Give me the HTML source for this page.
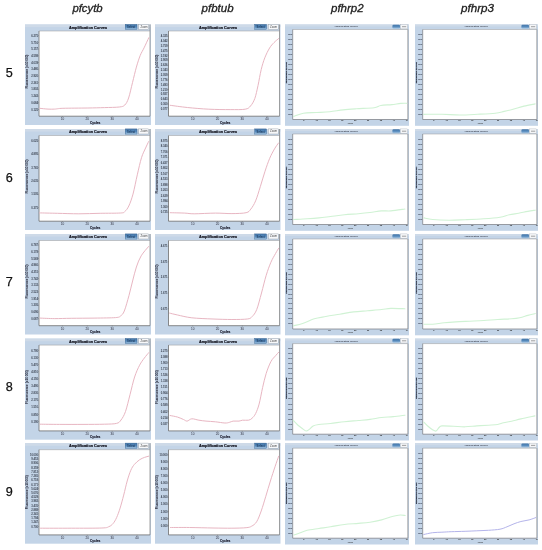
<!DOCTYPE html>
<html><head><meta charset="utf-8"><style>
html,body{margin:0;padding:0;background:#fff;}
svg{display:block;font-family:"Liberation Sans",sans-serif;will-change:transform;}
</style></head><body>
<svg width="542" height="550" viewBox="0 0 542 550">
<defs><linearGradient id="gsel" x1="0" y1="0" x2="0" y2="1"><stop offset="0" stop-color="#4677a8"/><stop offset="0.5" stop-color="#5589bc"/><stop offset="1" stop-color="#a6c6e2"/></linearGradient></defs>
<rect width="542" height="550" fill="#fff"/>
<text x="72.4" y="12.2" font-size="11" font-style="italic" fill="#222" stroke="#222" stroke-width="0.3" textLength="30.3" lengthAdjust="spacingAndGlyphs">pfcytb</text>
<text x="201.6" y="12.2" font-size="11" font-style="italic" fill="#222" stroke="#222" stroke-width="0.3" textLength="32" lengthAdjust="spacingAndGlyphs">pfbtub</text>
<text x="331" y="12.2" font-size="11" font-style="italic" fill="#222" stroke="#222" stroke-width="0.3" textLength="32.7" lengthAdjust="spacingAndGlyphs">pfhrp2</text>
<text x="461" y="12.2" font-size="11" font-style="italic" fill="#222" stroke="#222" stroke-width="0.3" textLength="33" lengthAdjust="spacingAndGlyphs">pfhrp3</text>
<text x="5.8" y="76.9" font-size="12.6" fill="#111" stroke="#111" stroke-width="0.25">5</text>
<text x="5.8" y="181.5" font-size="12.6" fill="#111" stroke="#111" stroke-width="0.25">6</text>
<text x="5.8" y="286.2" font-size="12.6" fill="#111" stroke="#111" stroke-width="0.25">7</text>
<text x="5.8" y="391" font-size="12.6" fill="#111" stroke="#111" stroke-width="0.25">8</text>
<text x="5.8" y="495.9" font-size="12.6" fill="#111" stroke="#111" stroke-width="0.25">9</text>
<rect x="25" y="24.5" width="126" height="100.5" fill="#c3d4e7"/>
<rect x="25" y="24.5" width="126" height="2.6" fill="#cedae8"/>
<text x="69" y="28.6" font-size="4.1" font-weight="bold" fill="#10101a" stroke="#10101a" stroke-width="0.18" textLength="38" lengthAdjust="spacingAndGlyphs">Amplification Curves</text>
<rect x="125.2" y="24.4" width="11.8" height="5.2" fill="url(#gsel)" stroke="#35628f" stroke-width="0.4"/>
<text x="131.1" y="28" font-size="3.3" font-weight="bold" text-anchor="middle" fill="#1d3a5c" textLength="8" lengthAdjust="spacingAndGlyphs">Select</text>
<rect x="138.7" y="24.4" width="10" height="5.1" fill="#f7f8fa" stroke="#8c96a0" stroke-width="0.4"/>
<text x="144.1" y="27.9" font-size="3.2" text-anchor="middle" fill="#484848" textLength="7.2" lengthAdjust="spacingAndGlyphs">Zoom</text>
<rect x="39" y="31" width="111" height="85.2" fill="#fff"/>
<line x1="39" y1="31" x2="150" y2="31" stroke="#999" stroke-width="0.5"/>
<line x1="150" y1="24.5" x2="150" y2="116.2" stroke="#8a8a8a" stroke-width="0.8"/>
<line x1="39" y1="31" x2="39" y2="116.2" stroke="#666" stroke-width="0.75"/>
<line x1="39" y1="116.2" x2="150" y2="116.2" stroke="#666" stroke-width="0.75"/>
<text x="38.1" y="36.8" font-size="2.9" font-weight="bold" text-anchor="end" fill="#3e4654" textLength="6.9" lengthAdjust="spacingAndGlyphs">6.275</text>
<line x1="38.2" y1="35.7" x2="39" y2="35.7" stroke="#555" stroke-width="0.4"/>
<text x="38.1" y="43.51" font-size="2.9" font-weight="bold" text-anchor="end" fill="#3e4654" textLength="6.9" lengthAdjust="spacingAndGlyphs">5.716</text>
<line x1="38.2" y1="42.41" x2="39" y2="42.41" stroke="#555" stroke-width="0.4"/>
<text x="38.1" y="50.22" font-size="2.9" font-weight="bold" text-anchor="end" fill="#3e4654" textLength="6.9" lengthAdjust="spacingAndGlyphs">5.157</text>
<line x1="38.2" y1="49.12" x2="39" y2="49.12" stroke="#555" stroke-width="0.4"/>
<text x="38.1" y="56.93" font-size="2.9" font-weight="bold" text-anchor="end" fill="#3e4654" textLength="6.9" lengthAdjust="spacingAndGlyphs">4.598</text>
<line x1="38.2" y1="55.83" x2="39" y2="55.83" stroke="#555" stroke-width="0.4"/>
<text x="38.1" y="63.64" font-size="2.9" font-weight="bold" text-anchor="end" fill="#3e4654" textLength="6.9" lengthAdjust="spacingAndGlyphs">4.039</text>
<line x1="38.2" y1="62.54" x2="39" y2="62.54" stroke="#555" stroke-width="0.4"/>
<text x="38.1" y="70.35" font-size="2.9" font-weight="bold" text-anchor="end" fill="#3e4654" textLength="6.9" lengthAdjust="spacingAndGlyphs">3.480</text>
<line x1="38.2" y1="69.25" x2="39" y2="69.25" stroke="#555" stroke-width="0.4"/>
<text x="38.1" y="77.05" font-size="2.9" font-weight="bold" text-anchor="end" fill="#3e4654" textLength="6.9" lengthAdjust="spacingAndGlyphs">2.920</text>
<line x1="38.2" y1="75.95" x2="39" y2="75.95" stroke="#555" stroke-width="0.4"/>
<text x="38.1" y="83.76" font-size="2.9" font-weight="bold" text-anchor="end" fill="#3e4654" textLength="6.9" lengthAdjust="spacingAndGlyphs">2.361</text>
<line x1="38.2" y1="82.66" x2="39" y2="82.66" stroke="#555" stroke-width="0.4"/>
<text x="38.1" y="90.47" font-size="2.9" font-weight="bold" text-anchor="end" fill="#3e4654" textLength="6.9" lengthAdjust="spacingAndGlyphs">1.802</text>
<line x1="38.2" y1="89.37" x2="39" y2="89.37" stroke="#555" stroke-width="0.4"/>
<text x="38.1" y="97.18" font-size="2.9" font-weight="bold" text-anchor="end" fill="#3e4654" textLength="6.9" lengthAdjust="spacingAndGlyphs">1.243</text>
<line x1="38.2" y1="96.08" x2="39" y2="96.08" stroke="#555" stroke-width="0.4"/>
<text x="38.1" y="103.89" font-size="2.9" font-weight="bold" text-anchor="end" fill="#3e4654" textLength="6.9" lengthAdjust="spacingAndGlyphs">0.684</text>
<line x1="38.2" y1="102.79" x2="39" y2="102.79" stroke="#555" stroke-width="0.4"/>
<text x="38.1" y="110.6" font-size="2.9" font-weight="bold" text-anchor="end" fill="#3e4654" textLength="6.9" lengthAdjust="spacingAndGlyphs">0.125</text>
<line x1="38.2" y1="109.5" x2="39" y2="109.5" stroke="#555" stroke-width="0.4"/>
<text transform="translate(28.3,71.6) rotate(-90)" font-size="2.8" font-weight="bold" text-anchor="middle" fill="#1a1a2a" textLength="34" lengthAdjust="spacingAndGlyphs">Fluorescence (x10 000)</text>
<line x1="62.4" y1="116.2" x2="62.4" y2="117.1" stroke="#555" stroke-width="0.4"/>
<text x="62.4" y="120.2" font-size="3.1" text-anchor="middle" fill="#2a2a3a">10</text>
<line x1="87.3" y1="116.2" x2="87.3" y2="117.1" stroke="#555" stroke-width="0.4"/>
<text x="87.3" y="120.2" font-size="3.1" text-anchor="middle" fill="#2a2a3a">20</text>
<line x1="112.2" y1="116.2" x2="112.2" y2="117.1" stroke="#555" stroke-width="0.4"/>
<text x="112.2" y="120.2" font-size="3.1" text-anchor="middle" fill="#2a2a3a">30</text>
<line x1="137.1" y1="116.2" x2="137.1" y2="117.1" stroke="#555" stroke-width="0.4"/>
<text x="137.1" y="120.2" font-size="3.1" text-anchor="middle" fill="#2a2a3a">40</text>
<text x="95.2" y="123.7" font-size="3.4" font-weight="bold" text-anchor="middle" fill="#1a1a2a" stroke="#1a1a2a" stroke-width="0.12" textLength="10.5" lengthAdjust="spacingAndGlyphs">Cycles</text>
<path d="M39.7,108.3 C41.08,108.43 45.52,108.97 48,109.1 C50.48,109.23 52.12,109.23 54.6,109.1 C57.08,108.97 57.37,108.48 62.9,108.3 C68.43,108.12 80.88,108.12 87.8,108 C94.72,107.88 99.15,107.77 104.4,107.6 C109.65,107.43 115.9,107.43 119.3,107 C122.7,106.57 123.25,106.5 124.8,105 C126.35,103.5 127.32,101.73 128.6,98 C129.88,94.27 131.2,87.75 132.5,82.6 C133.8,77.45 135.12,71.62 136.4,67.1 C137.68,62.58 138.92,58.72 140.2,55.5 C141.48,52.28 142.67,50.77 144.1,47.8 C145.53,44.83 148.02,39.38 148.8,37.7" fill="none" stroke="#e8b6c2" stroke-width="1.0" stroke-linejoin="round" stroke-linecap="round"/>
<rect x="155" y="24.5" width="125.5" height="100.5" fill="#c3d4e7"/>
<rect x="155" y="24.5" width="125.5" height="2.6" fill="#cedae8"/>
<text x="199" y="28.6" font-size="4.1" font-weight="bold" fill="#10101a" stroke="#10101a" stroke-width="0.18" textLength="38" lengthAdjust="spacingAndGlyphs">Amplification Curves</text>
<rect x="254.7" y="24.4" width="11.8" height="5.2" fill="url(#gsel)" stroke="#35628f" stroke-width="0.4"/>
<text x="260.6" y="28" font-size="3.3" font-weight="bold" text-anchor="middle" fill="#1d3a5c" textLength="8" lengthAdjust="spacingAndGlyphs">Select</text>
<rect x="268.2" y="24.4" width="10" height="5.1" fill="#f7f8fa" stroke="#8c96a0" stroke-width="0.4"/>
<text x="273.6" y="27.9" font-size="3.2" text-anchor="middle" fill="#484848" textLength="7.2" lengthAdjust="spacingAndGlyphs">Zoom</text>
<rect x="168.5" y="31" width="111" height="85.2" fill="#fff"/>
<line x1="168.5" y1="31" x2="279.5" y2="31" stroke="#999" stroke-width="0.5"/>
<line x1="279.5" y1="24.5" x2="279.5" y2="116.2" stroke="#8a8a8a" stroke-width="0.8"/>
<line x1="168.5" y1="31" x2="168.5" y2="116.2" stroke="#666" stroke-width="0.75"/>
<line x1="168.5" y1="116.2" x2="279.5" y2="116.2" stroke="#666" stroke-width="0.75"/>
<text x="167.6" y="37.2" font-size="2.9" font-weight="bold" text-anchor="end" fill="#3e4654" textLength="6.9" lengthAdjust="spacingAndGlyphs">4.325</text>
<line x1="167.7" y1="36.1" x2="168.5" y2="36.1" stroke="#555" stroke-width="0.4"/>
<text x="167.6" y="42.05" font-size="2.9" font-weight="bold" text-anchor="end" fill="#3e4654" textLength="6.9" lengthAdjust="spacingAndGlyphs">4.042</text>
<line x1="167.7" y1="40.95" x2="168.5" y2="40.95" stroke="#555" stroke-width="0.4"/>
<text x="167.6" y="46.91" font-size="2.9" font-weight="bold" text-anchor="end" fill="#3e4654" textLength="6.9" lengthAdjust="spacingAndGlyphs">3.759</text>
<line x1="167.7" y1="45.81" x2="168.5" y2="45.81" stroke="#555" stroke-width="0.4"/>
<text x="167.6" y="51.76" font-size="2.9" font-weight="bold" text-anchor="end" fill="#3e4654" textLength="6.9" lengthAdjust="spacingAndGlyphs">3.475</text>
<line x1="167.7" y1="50.66" x2="168.5" y2="50.66" stroke="#555" stroke-width="0.4"/>
<text x="167.6" y="56.61" font-size="2.9" font-weight="bold" text-anchor="end" fill="#3e4654" textLength="6.9" lengthAdjust="spacingAndGlyphs">3.192</text>
<line x1="167.7" y1="55.51" x2="168.5" y2="55.51" stroke="#555" stroke-width="0.4"/>
<text x="167.6" y="61.47" font-size="2.9" font-weight="bold" text-anchor="end" fill="#3e4654" textLength="6.9" lengthAdjust="spacingAndGlyphs">2.909</text>
<line x1="167.7" y1="60.37" x2="168.5" y2="60.37" stroke="#555" stroke-width="0.4"/>
<text x="167.6" y="66.32" font-size="2.9" font-weight="bold" text-anchor="end" fill="#3e4654" textLength="6.9" lengthAdjust="spacingAndGlyphs">2.626</text>
<line x1="167.7" y1="65.22" x2="168.5" y2="65.22" stroke="#555" stroke-width="0.4"/>
<text x="167.6" y="71.17" font-size="2.9" font-weight="bold" text-anchor="end" fill="#3e4654" textLength="6.9" lengthAdjust="spacingAndGlyphs">2.343</text>
<line x1="167.7" y1="70.07" x2="168.5" y2="70.07" stroke="#555" stroke-width="0.4"/>
<text x="167.6" y="76.03" font-size="2.9" font-weight="bold" text-anchor="end" fill="#3e4654" textLength="6.9" lengthAdjust="spacingAndGlyphs">2.059</text>
<line x1="167.7" y1="74.93" x2="168.5" y2="74.93" stroke="#555" stroke-width="0.4"/>
<text x="167.6" y="80.88" font-size="2.9" font-weight="bold" text-anchor="end" fill="#3e4654" textLength="6.9" lengthAdjust="spacingAndGlyphs">1.776</text>
<line x1="167.7" y1="79.78" x2="168.5" y2="79.78" stroke="#555" stroke-width="0.4"/>
<text x="167.6" y="85.73" font-size="2.9" font-weight="bold" text-anchor="end" fill="#3e4654" textLength="6.9" lengthAdjust="spacingAndGlyphs">1.493</text>
<line x1="167.7" y1="84.63" x2="168.5" y2="84.63" stroke="#555" stroke-width="0.4"/>
<text x="167.6" y="90.59" font-size="2.9" font-weight="bold" text-anchor="end" fill="#3e4654" textLength="6.9" lengthAdjust="spacingAndGlyphs">1.210</text>
<line x1="167.7" y1="89.49" x2="168.5" y2="89.49" stroke="#555" stroke-width="0.4"/>
<text x="167.6" y="95.44" font-size="2.9" font-weight="bold" text-anchor="end" fill="#3e4654" textLength="6.9" lengthAdjust="spacingAndGlyphs">0.927</text>
<line x1="167.7" y1="94.34" x2="168.5" y2="94.34" stroke="#555" stroke-width="0.4"/>
<text x="167.6" y="100.29" font-size="2.9" font-weight="bold" text-anchor="end" fill="#3e4654" textLength="6.9" lengthAdjust="spacingAndGlyphs">0.643</text>
<line x1="167.7" y1="99.19" x2="168.5" y2="99.19" stroke="#555" stroke-width="0.4"/>
<text x="167.6" y="105.15" font-size="2.9" font-weight="bold" text-anchor="end" fill="#3e4654" textLength="6.9" lengthAdjust="spacingAndGlyphs">0.360</text>
<line x1="167.7" y1="104.05" x2="168.5" y2="104.05" stroke="#555" stroke-width="0.4"/>
<text x="167.6" y="110" font-size="2.9" font-weight="bold" text-anchor="end" fill="#3e4654" textLength="6.9" lengthAdjust="spacingAndGlyphs">0.077</text>
<line x1="167.7" y1="108.9" x2="168.5" y2="108.9" stroke="#555" stroke-width="0.4"/>
<text transform="translate(158.3,71.6) rotate(-90)" font-size="2.8" font-weight="bold" text-anchor="middle" fill="#1a1a2a" textLength="34" lengthAdjust="spacingAndGlyphs">Fluorescence (x10 000)</text>
<line x1="192.7" y1="116.2" x2="192.7" y2="117.1" stroke="#555" stroke-width="0.4"/>
<text x="192.7" y="120.2" font-size="3.1" text-anchor="middle" fill="#2a2a3a">10</text>
<line x1="217.5" y1="116.2" x2="217.5" y2="117.1" stroke="#555" stroke-width="0.4"/>
<text x="217.5" y="120.2" font-size="3.1" text-anchor="middle" fill="#2a2a3a">20</text>
<line x1="242.3" y1="116.2" x2="242.3" y2="117.1" stroke="#555" stroke-width="0.4"/>
<text x="242.3" y="120.2" font-size="3.1" text-anchor="middle" fill="#2a2a3a">30</text>
<line x1="267.1" y1="116.2" x2="267.1" y2="117.1" stroke="#555" stroke-width="0.4"/>
<text x="267.1" y="120.2" font-size="3.1" text-anchor="middle" fill="#2a2a3a">40</text>
<text x="225.2" y="123.7" font-size="3.4" font-weight="bold" text-anchor="middle" fill="#1a1a2a" stroke="#1a1a2a" stroke-width="0.12" textLength="10.5" lengthAdjust="spacingAndGlyphs">Cycles</text>
<path d="M170.2,105.3 C173.07,105.67 180.97,106.85 187.4,107.5 C193.83,108.15 201.67,108.85 208.8,109.2 C215.93,109.55 224.13,109.6 230.2,109.6 C236.27,109.6 241.82,109.8 245.2,109.2 C248.58,108.6 248.9,107.78 250.5,106 C252.1,104.22 253.55,101.9 254.8,98.5 C256.05,95.1 256.93,90.42 258,85.6 C259.07,80.78 260.07,74.23 261.2,69.6 C262.33,64.97 263.4,61.4 264.8,57.8 C266.2,54.2 268.07,50.53 269.6,48 C271.13,45.47 272.5,44.17 274,42.6 C275.5,41.03 277.83,39.27 278.6,38.6" fill="none" stroke="#e8b6c2" stroke-width="1.0" stroke-linejoin="round" stroke-linecap="round"/>
<rect x="285" y="24.5" width="124" height="101.3" fill="#c3d4e7"/>
<rect x="285" y="24.5" width="124" height="2.0" fill="#cedae8"/>
<text x="334.4" y="27.4" font-size="2.4" font-weight="bold" fill="#454a58" textLength="23.5" lengthAdjust="spacingAndGlyphs">Amplification Curves</text>
<rect x="392.4" y="24.7" width="7.6" height="4" rx="1.2" fill="url(#gsel)"/>
<rect x="400.5" y="24.4" width="7" height="4.5" fill="#f4f5f7" stroke="#9aa2ac" stroke-width="0.3"/>
<line x1="402" y1="26.7" x2="406.2" y2="26.7" stroke="#666" stroke-width="0.6"/>
<rect x="292.7" y="29.5" width="115.2" height="90" fill="#fff"/>
<line x1="292.7" y1="29.5" x2="407.9" y2="29.5" stroke="#999" stroke-width="0.5"/>
<line x1="407.9" y1="29.5" x2="407.9" y2="119.5" stroke="#8a8a8a" stroke-width="0.8"/>
<line x1="292.7" y1="29.5" x2="292.7" y2="119.5" stroke="#7c7f86" stroke-width="0.75"/>
<line x1="292.7" y1="119.5" x2="407.9" y2="119.5" stroke="#7c7f86" stroke-width="0.75"/>
<text x="292.1" y="35.2" font-size="2.1" font-weight="bold" text-anchor="end" fill="#2a3040" textLength="4.2" lengthAdjust="spacingAndGlyphs">1.275</text>
<text x="292.1" y="40.18" font-size="2.1" font-weight="bold" text-anchor="end" fill="#2a3040" textLength="4.2" lengthAdjust="spacingAndGlyphs">1.275</text>
<text x="292.1" y="45.16" font-size="2.1" font-weight="bold" text-anchor="end" fill="#2a3040" textLength="4.2" lengthAdjust="spacingAndGlyphs">1.275</text>
<text x="292.1" y="50.14" font-size="2.1" font-weight="bold" text-anchor="end" fill="#2a3040" textLength="4.2" lengthAdjust="spacingAndGlyphs">1.275</text>
<text x="292.1" y="55.12" font-size="2.1" font-weight="bold" text-anchor="end" fill="#2a3040" textLength="4.2" lengthAdjust="spacingAndGlyphs">1.275</text>
<text x="292.1" y="60.11" font-size="2.1" font-weight="bold" text-anchor="end" fill="#2a3040" textLength="4.2" lengthAdjust="spacingAndGlyphs">1.275</text>
<text x="292.1" y="65.09" font-size="2.1" font-weight="bold" text-anchor="end" fill="#2a3040" textLength="4.2" lengthAdjust="spacingAndGlyphs">1.275</text>
<text x="292.1" y="70.07" font-size="2.1" font-weight="bold" text-anchor="end" fill="#2a3040" textLength="4.2" lengthAdjust="spacingAndGlyphs">1.275</text>
<text x="292.1" y="75.05" font-size="2.1" font-weight="bold" text-anchor="end" fill="#2a3040" textLength="4.2" lengthAdjust="spacingAndGlyphs">1.275</text>
<text x="292.1" y="80.03" font-size="2.1" font-weight="bold" text-anchor="end" fill="#2a3040" textLength="4.2" lengthAdjust="spacingAndGlyphs">1.275</text>
<text x="292.1" y="85.01" font-size="2.1" font-weight="bold" text-anchor="end" fill="#2a3040" textLength="4.2" lengthAdjust="spacingAndGlyphs">1.275</text>
<text x="292.1" y="89.99" font-size="2.1" font-weight="bold" text-anchor="end" fill="#2a3040" textLength="4.2" lengthAdjust="spacingAndGlyphs">1.275</text>
<text x="292.1" y="94.98" font-size="2.1" font-weight="bold" text-anchor="end" fill="#2a3040" textLength="4.2" lengthAdjust="spacingAndGlyphs">1.275</text>
<text x="292.1" y="99.96" font-size="2.1" font-weight="bold" text-anchor="end" fill="#2a3040" textLength="4.2" lengthAdjust="spacingAndGlyphs">1.275</text>
<text x="292.1" y="104.94" font-size="2.1" font-weight="bold" text-anchor="end" fill="#2a3040" textLength="4.2" lengthAdjust="spacingAndGlyphs">1.275</text>
<text x="292.1" y="109.92" font-size="2.1" font-weight="bold" text-anchor="end" fill="#2a3040" textLength="4.2" lengthAdjust="spacingAndGlyphs">1.275</text>
<text x="292.1" y="114.9" font-size="2.1" font-weight="bold" text-anchor="end" fill="#2a3040" textLength="4.2" lengthAdjust="spacingAndGlyphs">1.275</text>
<text transform="translate(286.7,72.5) rotate(-90)" font-size="2.3" font-weight="bold" text-anchor="middle" fill="#2a3040" stroke="#2a3040" stroke-width="0.15" textLength="21.5" lengthAdjust="spacingAndGlyphs">Fluorescence (x10 000)</text>
<text x="303.8" y="121.4" font-size="2.1" font-weight="bold" text-anchor="middle" fill="#333">5</text>
<text x="316.65" y="121.4" font-size="2.1" font-weight="bold" text-anchor="middle" fill="#333">10</text>
<text x="329.5" y="121.4" font-size="2.1" font-weight="bold" text-anchor="middle" fill="#333">15</text>
<text x="342.35" y="121.4" font-size="2.1" font-weight="bold" text-anchor="middle" fill="#333">20</text>
<text x="355.2" y="121.4" font-size="2.1" font-weight="bold" text-anchor="middle" fill="#333">25</text>
<text x="368.05" y="121.4" font-size="2.1" font-weight="bold" text-anchor="middle" fill="#333">30</text>
<text x="380.9" y="121.4" font-size="2.1" font-weight="bold" text-anchor="middle" fill="#333">35</text>
<text x="393.75" y="121.4" font-size="2.1" font-weight="bold" text-anchor="middle" fill="#333">40</text>
<text x="406.6" y="121.4" font-size="2.1" font-weight="bold" text-anchor="middle" fill="#333">45</text>
<text x="350.3" y="123.9" font-size="2" font-weight="bold" text-anchor="middle" fill="#333" textLength="5" lengthAdjust="spacingAndGlyphs">Cycles</text>
<path d="M293.5,116.5 C295.13,115.95 299.45,113.87 303.3,113.2 C307.15,112.53 312.18,112.75 316.6,112.5 C321.02,112.25 325.38,112.13 329.8,111.7 C334.22,111.27 338.67,110.38 343.1,109.9 C347.53,109.42 351.23,109.17 356.4,108.8 C361.57,108.43 370.03,108.25 374.1,107.7 C378.17,107.15 377.85,106.02 380.8,105.5 C383.75,104.98 388.48,104.95 391.8,104.6 C395.12,104.25 398.2,103.62 400.7,103.4 C403.2,103.18 405.78,103.32 406.8,103.3" fill="none" stroke="#d0f2d4" stroke-width="1.15" stroke-linejoin="round" stroke-linecap="round"/>
<rect x="415" y="24.5" width="123" height="101.3" fill="#c3d4e7"/>
<rect x="415" y="24.5" width="123" height="2.0" fill="#cedae8"/>
<text x="464.4" y="27.4" font-size="2.4" font-weight="bold" fill="#454a58" textLength="23.5" lengthAdjust="spacingAndGlyphs">Amplification Curves</text>
<rect x="521.4" y="24.7" width="7.6" height="4" rx="1.2" fill="url(#gsel)"/>
<rect x="529.5" y="24.4" width="7" height="4.5" fill="#f4f5f7" stroke="#9aa2ac" stroke-width="0.3"/>
<line x1="531" y1="26.7" x2="535.2" y2="26.7" stroke="#666" stroke-width="0.6"/>
<rect x="422.7" y="29.5" width="114.2" height="90" fill="#fff"/>
<line x1="422.7" y1="29.5" x2="536.9" y2="29.5" stroke="#999" stroke-width="0.5"/>
<line x1="536.9" y1="29.5" x2="536.9" y2="119.5" stroke="#8a8a8a" stroke-width="0.8"/>
<line x1="422.7" y1="29.5" x2="422.7" y2="119.5" stroke="#7c7f86" stroke-width="0.75"/>
<line x1="422.7" y1="119.5" x2="536.9" y2="119.5" stroke="#7c7f86" stroke-width="0.75"/>
<text x="422.1" y="35.2" font-size="2.1" font-weight="bold" text-anchor="end" fill="#2a3040" textLength="4.2" lengthAdjust="spacingAndGlyphs">1.275</text>
<text x="422.1" y="40.18" font-size="2.1" font-weight="bold" text-anchor="end" fill="#2a3040" textLength="4.2" lengthAdjust="spacingAndGlyphs">1.275</text>
<text x="422.1" y="45.16" font-size="2.1" font-weight="bold" text-anchor="end" fill="#2a3040" textLength="4.2" lengthAdjust="spacingAndGlyphs">1.275</text>
<text x="422.1" y="50.14" font-size="2.1" font-weight="bold" text-anchor="end" fill="#2a3040" textLength="4.2" lengthAdjust="spacingAndGlyphs">1.275</text>
<text x="422.1" y="55.12" font-size="2.1" font-weight="bold" text-anchor="end" fill="#2a3040" textLength="4.2" lengthAdjust="spacingAndGlyphs">1.275</text>
<text x="422.1" y="60.11" font-size="2.1" font-weight="bold" text-anchor="end" fill="#2a3040" textLength="4.2" lengthAdjust="spacingAndGlyphs">1.275</text>
<text x="422.1" y="65.09" font-size="2.1" font-weight="bold" text-anchor="end" fill="#2a3040" textLength="4.2" lengthAdjust="spacingAndGlyphs">1.275</text>
<text x="422.1" y="70.07" font-size="2.1" font-weight="bold" text-anchor="end" fill="#2a3040" textLength="4.2" lengthAdjust="spacingAndGlyphs">1.275</text>
<text x="422.1" y="75.05" font-size="2.1" font-weight="bold" text-anchor="end" fill="#2a3040" textLength="4.2" lengthAdjust="spacingAndGlyphs">1.275</text>
<text x="422.1" y="80.03" font-size="2.1" font-weight="bold" text-anchor="end" fill="#2a3040" textLength="4.2" lengthAdjust="spacingAndGlyphs">1.275</text>
<text x="422.1" y="85.01" font-size="2.1" font-weight="bold" text-anchor="end" fill="#2a3040" textLength="4.2" lengthAdjust="spacingAndGlyphs">1.275</text>
<text x="422.1" y="89.99" font-size="2.1" font-weight="bold" text-anchor="end" fill="#2a3040" textLength="4.2" lengthAdjust="spacingAndGlyphs">1.275</text>
<text x="422.1" y="94.98" font-size="2.1" font-weight="bold" text-anchor="end" fill="#2a3040" textLength="4.2" lengthAdjust="spacingAndGlyphs">1.275</text>
<text x="422.1" y="99.96" font-size="2.1" font-weight="bold" text-anchor="end" fill="#2a3040" textLength="4.2" lengthAdjust="spacingAndGlyphs">1.275</text>
<text x="422.1" y="104.94" font-size="2.1" font-weight="bold" text-anchor="end" fill="#2a3040" textLength="4.2" lengthAdjust="spacingAndGlyphs">1.275</text>
<text x="422.1" y="109.92" font-size="2.1" font-weight="bold" text-anchor="end" fill="#2a3040" textLength="4.2" lengthAdjust="spacingAndGlyphs">1.275</text>
<text x="422.1" y="114.9" font-size="2.1" font-weight="bold" text-anchor="end" fill="#2a3040" textLength="4.2" lengthAdjust="spacingAndGlyphs">1.275</text>
<text transform="translate(416.7,72.5) rotate(-90)" font-size="2.3" font-weight="bold" text-anchor="middle" fill="#2a3040" stroke="#2a3040" stroke-width="0.15" textLength="21.5" lengthAdjust="spacingAndGlyphs">Fluorescence (x10 000)</text>
<text x="433.8" y="121.4" font-size="2.1" font-weight="bold" text-anchor="middle" fill="#333">5</text>
<text x="446.65" y="121.4" font-size="2.1" font-weight="bold" text-anchor="middle" fill="#333">10</text>
<text x="459.5" y="121.4" font-size="2.1" font-weight="bold" text-anchor="middle" fill="#333">15</text>
<text x="472.35" y="121.4" font-size="2.1" font-weight="bold" text-anchor="middle" fill="#333">20</text>
<text x="485.2" y="121.4" font-size="2.1" font-weight="bold" text-anchor="middle" fill="#333">25</text>
<text x="498.05" y="121.4" font-size="2.1" font-weight="bold" text-anchor="middle" fill="#333">30</text>
<text x="510.9" y="121.4" font-size="2.1" font-weight="bold" text-anchor="middle" fill="#333">35</text>
<text x="523.75" y="121.4" font-size="2.1" font-weight="bold" text-anchor="middle" fill="#333">40</text>
<text x="536.6" y="121.4" font-size="2.1" font-weight="bold" text-anchor="middle" fill="#333">45</text>
<text x="480.3" y="123.9" font-size="2" font-weight="bold" text-anchor="middle" fill="#333" textLength="5" lengthAdjust="spacingAndGlyphs">Cycles</text>
<path d="M423.6,114.3 C426.68,114.3 436.07,114.18 442.1,114.3 C448.13,114.42 453.88,115 459.8,115 C465.72,115 471.68,114.6 477.6,114.3 C483.52,114 490.88,113.68 495.3,113.2 C499.72,112.72 501.15,112.07 504.1,111.4 C507.05,110.73 509.68,110.08 513,109.2 C516.32,108.32 520.32,106.98 524,106.1 C527.68,105.22 533.25,104.27 535.1,103.9" fill="none" stroke="#d0f2d4" stroke-width="1.15" stroke-linejoin="round" stroke-linecap="round"/>
<rect x="25" y="129" width="126" height="101" fill="#c3d4e7"/>
<rect x="25" y="129" width="126" height="2.6" fill="#cedae8"/>
<text x="69" y="133.1" font-size="4.1" font-weight="bold" fill="#10101a" stroke="#10101a" stroke-width="0.18" textLength="38" lengthAdjust="spacingAndGlyphs">Amplification Curves</text>
<rect x="125.2" y="128.9" width="11.8" height="5.2" fill="url(#gsel)" stroke="#35628f" stroke-width="0.4"/>
<text x="131.1" y="132.5" font-size="3.3" font-weight="bold" text-anchor="middle" fill="#1d3a5c" textLength="8" lengthAdjust="spacingAndGlyphs">Select</text>
<rect x="138.7" y="128.9" width="10" height="5.1" fill="#f7f8fa" stroke="#8c96a0" stroke-width="0.4"/>
<text x="144.1" y="132.4" font-size="3.2" text-anchor="middle" fill="#484848" textLength="7.2" lengthAdjust="spacingAndGlyphs">Zoom</text>
<rect x="39" y="135.5" width="111" height="85.7" fill="#fff"/>
<line x1="39" y1="135.5" x2="150" y2="135.5" stroke="#999" stroke-width="0.5"/>
<line x1="150" y1="129" x2="150" y2="221.2" stroke="#8a8a8a" stroke-width="0.8"/>
<line x1="39" y1="135.5" x2="39" y2="221.2" stroke="#666" stroke-width="0.75"/>
<line x1="39" y1="221.2" x2="150" y2="221.2" stroke="#666" stroke-width="0.75"/>
<text x="38.1" y="142" font-size="2.9" font-weight="bold" text-anchor="end" fill="#3e4654" textLength="6.9" lengthAdjust="spacingAndGlyphs">6.025</text>
<line x1="38.2" y1="140.9" x2="39" y2="140.9" stroke="#555" stroke-width="0.4"/>
<text x="38.1" y="155.36" font-size="2.9" font-weight="bold" text-anchor="end" fill="#3e4654" textLength="6.9" lengthAdjust="spacingAndGlyphs">4.895</text>
<line x1="38.2" y1="154.26" x2="39" y2="154.26" stroke="#555" stroke-width="0.4"/>
<text x="38.1" y="168.72" font-size="2.9" font-weight="bold" text-anchor="end" fill="#3e4654" textLength="6.9" lengthAdjust="spacingAndGlyphs">3.765</text>
<line x1="38.2" y1="167.62" x2="39" y2="167.62" stroke="#555" stroke-width="0.4"/>
<text x="38.1" y="182.08" font-size="2.9" font-weight="bold" text-anchor="end" fill="#3e4654" textLength="6.9" lengthAdjust="spacingAndGlyphs">2.635</text>
<line x1="38.2" y1="180.98" x2="39" y2="180.98" stroke="#555" stroke-width="0.4"/>
<text x="38.1" y="195.44" font-size="2.9" font-weight="bold" text-anchor="end" fill="#3e4654" textLength="6.9" lengthAdjust="spacingAndGlyphs">1.505</text>
<line x1="38.2" y1="194.34" x2="39" y2="194.34" stroke="#555" stroke-width="0.4"/>
<text x="38.1" y="208.8" font-size="2.9" font-weight="bold" text-anchor="end" fill="#3e4654" textLength="6.9" lengthAdjust="spacingAndGlyphs">0.375</text>
<line x1="38.2" y1="207.7" x2="39" y2="207.7" stroke="#555" stroke-width="0.4"/>
<text transform="translate(28.3,176.55) rotate(-90)" font-size="2.8" font-weight="bold" text-anchor="middle" fill="#1a1a2a" textLength="34" lengthAdjust="spacingAndGlyphs">Fluorescence (x10 000)</text>
<line x1="62.4" y1="221.2" x2="62.4" y2="222.1" stroke="#555" stroke-width="0.4"/>
<text x="62.4" y="225.2" font-size="3.1" text-anchor="middle" fill="#2a2a3a">10</text>
<line x1="87.3" y1="221.2" x2="87.3" y2="222.1" stroke="#555" stroke-width="0.4"/>
<text x="87.3" y="225.2" font-size="3.1" text-anchor="middle" fill="#2a2a3a">20</text>
<line x1="112.2" y1="221.2" x2="112.2" y2="222.1" stroke="#555" stroke-width="0.4"/>
<text x="112.2" y="225.2" font-size="3.1" text-anchor="middle" fill="#2a2a3a">30</text>
<line x1="137.1" y1="221.2" x2="137.1" y2="222.1" stroke="#555" stroke-width="0.4"/>
<text x="137.1" y="225.2" font-size="3.1" text-anchor="middle" fill="#2a2a3a">40</text>
<text x="95.2" y="228.7" font-size="3.4" font-weight="bold" text-anchor="middle" fill="#1a1a2a" stroke="#1a1a2a" stroke-width="0.12" textLength="10.5" lengthAdjust="spacingAndGlyphs">Cycles</text>
<path d="M39.5,212.9 C42.48,212.97 50.85,213.15 57.4,213.3 C63.95,213.45 71.67,213.8 78.8,213.8 C85.93,213.8 93.25,213.43 100.2,213.3 C107.15,213.17 116.4,213.3 120.5,213 C124.6,212.7 123.42,212.67 124.8,211.5 C126.18,210.33 127.43,208.9 128.8,206 C130.17,203.1 131.58,199.3 133,194.1 C134.42,188.9 135.88,180.87 137.3,174.8 C138.72,168.73 140.12,162.17 141.5,157.7 C142.88,153.23 144.42,150.68 145.6,148 C146.78,145.32 148.1,142.67 148.6,141.6" fill="none" stroke="#e8b6c2" stroke-width="1.0" stroke-linejoin="round" stroke-linecap="round"/>
<rect x="155" y="129" width="125.5" height="101" fill="#c3d4e7"/>
<rect x="155" y="129" width="125.5" height="2.6" fill="#cedae8"/>
<text x="199" y="133.1" font-size="4.1" font-weight="bold" fill="#10101a" stroke="#10101a" stroke-width="0.18" textLength="38" lengthAdjust="spacingAndGlyphs">Amplification Curves</text>
<rect x="254.7" y="128.9" width="11.8" height="5.2" fill="url(#gsel)" stroke="#35628f" stroke-width="0.4"/>
<text x="260.6" y="132.5" font-size="3.3" font-weight="bold" text-anchor="middle" fill="#1d3a5c" textLength="8" lengthAdjust="spacingAndGlyphs">Select</text>
<rect x="268.2" y="128.9" width="10" height="5.1" fill="#f7f8fa" stroke="#8c96a0" stroke-width="0.4"/>
<text x="273.6" y="132.4" font-size="3.2" text-anchor="middle" fill="#484848" textLength="7.2" lengthAdjust="spacingAndGlyphs">Zoom</text>
<rect x="168.5" y="135.5" width="111" height="85.7" fill="#fff"/>
<line x1="168.5" y1="135.5" x2="279.5" y2="135.5" stroke="#999" stroke-width="0.5"/>
<line x1="279.5" y1="129" x2="279.5" y2="221.2" stroke="#8a8a8a" stroke-width="0.8"/>
<line x1="168.5" y1="135.5" x2="168.5" y2="221.2" stroke="#666" stroke-width="0.75"/>
<line x1="168.5" y1="221.2" x2="279.5" y2="221.2" stroke="#666" stroke-width="0.75"/>
<text x="167.6" y="142" font-size="2.9" font-weight="bold" text-anchor="end" fill="#3e4654" textLength="6.9" lengthAdjust="spacingAndGlyphs">8.975</text>
<line x1="167.7" y1="140.9" x2="168.5" y2="140.9" stroke="#555" stroke-width="0.4"/>
<text x="167.6" y="147.48" font-size="2.9" font-weight="bold" text-anchor="end" fill="#3e4654" textLength="6.9" lengthAdjust="spacingAndGlyphs">8.340</text>
<line x1="167.7" y1="146.38" x2="168.5" y2="146.38" stroke="#555" stroke-width="0.4"/>
<text x="167.6" y="152.97" font-size="2.9" font-weight="bold" text-anchor="end" fill="#3e4654" textLength="6.9" lengthAdjust="spacingAndGlyphs">7.706</text>
<line x1="167.7" y1="151.87" x2="168.5" y2="151.87" stroke="#555" stroke-width="0.4"/>
<text x="167.6" y="158.45" font-size="2.9" font-weight="bold" text-anchor="end" fill="#3e4654" textLength="6.9" lengthAdjust="spacingAndGlyphs">7.071</text>
<line x1="167.7" y1="157.35" x2="168.5" y2="157.35" stroke="#555" stroke-width="0.4"/>
<text x="167.6" y="163.94" font-size="2.9" font-weight="bold" text-anchor="end" fill="#3e4654" textLength="6.9" lengthAdjust="spacingAndGlyphs">6.437</text>
<line x1="167.7" y1="162.84" x2="168.5" y2="162.84" stroke="#555" stroke-width="0.4"/>
<text x="167.6" y="169.42" font-size="2.9" font-weight="bold" text-anchor="end" fill="#3e4654" textLength="6.9" lengthAdjust="spacingAndGlyphs">5.802</text>
<line x1="167.7" y1="168.32" x2="168.5" y2="168.32" stroke="#555" stroke-width="0.4"/>
<text x="167.6" y="174.91" font-size="2.9" font-weight="bold" text-anchor="end" fill="#3e4654" textLength="6.9" lengthAdjust="spacingAndGlyphs">5.167</text>
<line x1="167.7" y1="173.81" x2="168.5" y2="173.81" stroke="#555" stroke-width="0.4"/>
<text x="167.6" y="180.39" font-size="2.9" font-weight="bold" text-anchor="end" fill="#3e4654" textLength="6.9" lengthAdjust="spacingAndGlyphs">4.533</text>
<line x1="167.7" y1="179.29" x2="168.5" y2="179.29" stroke="#555" stroke-width="0.4"/>
<text x="167.6" y="185.88" font-size="2.9" font-weight="bold" text-anchor="end" fill="#3e4654" textLength="6.9" lengthAdjust="spacingAndGlyphs">3.898</text>
<line x1="167.7" y1="184.78" x2="168.5" y2="184.78" stroke="#555" stroke-width="0.4"/>
<text x="167.6" y="191.36" font-size="2.9" font-weight="bold" text-anchor="end" fill="#3e4654" textLength="6.9" lengthAdjust="spacingAndGlyphs">3.263</text>
<line x1="167.7" y1="190.26" x2="168.5" y2="190.26" stroke="#555" stroke-width="0.4"/>
<text x="167.6" y="196.85" font-size="2.9" font-weight="bold" text-anchor="end" fill="#3e4654" textLength="6.9" lengthAdjust="spacingAndGlyphs">2.629</text>
<line x1="167.7" y1="195.75" x2="168.5" y2="195.75" stroke="#555" stroke-width="0.4"/>
<text x="167.6" y="202.33" font-size="2.9" font-weight="bold" text-anchor="end" fill="#3e4654" textLength="6.9" lengthAdjust="spacingAndGlyphs">1.994</text>
<line x1="167.7" y1="201.23" x2="168.5" y2="201.23" stroke="#555" stroke-width="0.4"/>
<text x="167.6" y="207.82" font-size="2.9" font-weight="bold" text-anchor="end" fill="#3e4654" textLength="6.9" lengthAdjust="spacingAndGlyphs">1.360</text>
<line x1="167.7" y1="206.72" x2="168.5" y2="206.72" stroke="#555" stroke-width="0.4"/>
<text x="167.6" y="213.3" font-size="2.9" font-weight="bold" text-anchor="end" fill="#3e4654" textLength="6.9" lengthAdjust="spacingAndGlyphs">0.725</text>
<line x1="167.7" y1="212.2" x2="168.5" y2="212.2" stroke="#555" stroke-width="0.4"/>
<text transform="translate(158.3,176.55) rotate(-90)" font-size="2.8" font-weight="bold" text-anchor="middle" fill="#1a1a2a" textLength="34" lengthAdjust="spacingAndGlyphs">Fluorescence (x10 000)</text>
<line x1="192.7" y1="221.2" x2="192.7" y2="222.1" stroke="#555" stroke-width="0.4"/>
<text x="192.7" y="225.2" font-size="3.1" text-anchor="middle" fill="#2a2a3a">10</text>
<line x1="217.5" y1="221.2" x2="217.5" y2="222.1" stroke="#555" stroke-width="0.4"/>
<text x="217.5" y="225.2" font-size="3.1" text-anchor="middle" fill="#2a2a3a">20</text>
<line x1="242.3" y1="221.2" x2="242.3" y2="222.1" stroke="#555" stroke-width="0.4"/>
<text x="242.3" y="225.2" font-size="3.1" text-anchor="middle" fill="#2a2a3a">30</text>
<line x1="267.1" y1="221.2" x2="267.1" y2="222.1" stroke="#555" stroke-width="0.4"/>
<text x="267.1" y="225.2" font-size="3.1" text-anchor="middle" fill="#2a2a3a">40</text>
<text x="225.2" y="228.7" font-size="3.4" font-weight="bold" text-anchor="middle" fill="#1a1a2a" stroke="#1a1a2a" stroke-width="0.12" textLength="10.5" lengthAdjust="spacingAndGlyphs">Cycles</text>
<path d="M170.2,212.7 C172.62,212.77 180.7,212.92 184.7,213.1 C188.7,213.28 189.08,213.8 194.2,213.8 C199.32,213.8 209.12,213.13 215.4,213.1 C221.68,213.07 226.78,213.67 231.9,213.6 C237.02,213.53 242.95,213.45 246.1,212.7 C249.25,211.95 249.22,211.07 250.8,209.1 C252.38,207.13 254.02,204.63 255.6,200.9 C257.18,197.17 258.73,191.63 260.3,186.7 C261.87,181.77 263.43,176.03 265,171.3 C266.57,166.57 268.12,162.03 269.7,158.3 C271.28,154.57 273.03,151.45 274.5,148.9 C275.97,146.35 277.83,143.98 278.5,143" fill="none" stroke="#e8b6c2" stroke-width="1.0" stroke-linejoin="round" stroke-linecap="round"/>
<rect x="285" y="129" width="124" height="101.8" fill="#c3d4e7"/>
<rect x="285" y="129" width="124" height="2.0" fill="#cedae8"/>
<text x="334.4" y="131.9" font-size="2.4" font-weight="bold" fill="#454a58" textLength="23.5" lengthAdjust="spacingAndGlyphs">Amplification Curves</text>
<rect x="392.4" y="129.2" width="7.6" height="4" rx="1.2" fill="url(#gsel)"/>
<rect x="400.5" y="128.9" width="7" height="4.5" fill="#f4f5f7" stroke="#9aa2ac" stroke-width="0.3"/>
<line x1="402" y1="131.2" x2="406.2" y2="131.2" stroke="#666" stroke-width="0.6"/>
<rect x="292.7" y="134" width="115.2" height="90.5" fill="#fff"/>
<line x1="292.7" y1="134" x2="407.9" y2="134" stroke="#999" stroke-width="0.5"/>
<line x1="407.9" y1="134" x2="407.9" y2="224.5" stroke="#8a8a8a" stroke-width="0.8"/>
<line x1="292.7" y1="134" x2="292.7" y2="224.5" stroke="#7c7f86" stroke-width="0.75"/>
<line x1="292.7" y1="224.5" x2="407.9" y2="224.5" stroke="#7c7f86" stroke-width="0.75"/>
<text x="292.1" y="139.7" font-size="2.1" font-weight="bold" text-anchor="end" fill="#2a3040" textLength="4.2" lengthAdjust="spacingAndGlyphs">1.275</text>
<text x="292.1" y="144.71" font-size="2.1" font-weight="bold" text-anchor="end" fill="#2a3040" textLength="4.2" lengthAdjust="spacingAndGlyphs">1.275</text>
<text x="292.1" y="149.72" font-size="2.1" font-weight="bold" text-anchor="end" fill="#2a3040" textLength="4.2" lengthAdjust="spacingAndGlyphs">1.275</text>
<text x="292.1" y="154.74" font-size="2.1" font-weight="bold" text-anchor="end" fill="#2a3040" textLength="4.2" lengthAdjust="spacingAndGlyphs">1.275</text>
<text x="292.1" y="159.75" font-size="2.1" font-weight="bold" text-anchor="end" fill="#2a3040" textLength="4.2" lengthAdjust="spacingAndGlyphs">1.275</text>
<text x="292.1" y="164.76" font-size="2.1" font-weight="bold" text-anchor="end" fill="#2a3040" textLength="4.2" lengthAdjust="spacingAndGlyphs">1.275</text>
<text x="292.1" y="169.77" font-size="2.1" font-weight="bold" text-anchor="end" fill="#2a3040" textLength="4.2" lengthAdjust="spacingAndGlyphs">1.275</text>
<text x="292.1" y="174.79" font-size="2.1" font-weight="bold" text-anchor="end" fill="#2a3040" textLength="4.2" lengthAdjust="spacingAndGlyphs">1.275</text>
<text x="292.1" y="179.8" font-size="2.1" font-weight="bold" text-anchor="end" fill="#2a3040" textLength="4.2" lengthAdjust="spacingAndGlyphs">1.275</text>
<text x="292.1" y="184.81" font-size="2.1" font-weight="bold" text-anchor="end" fill="#2a3040" textLength="4.2" lengthAdjust="spacingAndGlyphs">1.275</text>
<text x="292.1" y="189.82" font-size="2.1" font-weight="bold" text-anchor="end" fill="#2a3040" textLength="4.2" lengthAdjust="spacingAndGlyphs">1.275</text>
<text x="292.1" y="194.84" font-size="2.1" font-weight="bold" text-anchor="end" fill="#2a3040" textLength="4.2" lengthAdjust="spacingAndGlyphs">1.275</text>
<text x="292.1" y="199.85" font-size="2.1" font-weight="bold" text-anchor="end" fill="#2a3040" textLength="4.2" lengthAdjust="spacingAndGlyphs">1.275</text>
<text x="292.1" y="204.86" font-size="2.1" font-weight="bold" text-anchor="end" fill="#2a3040" textLength="4.2" lengthAdjust="spacingAndGlyphs">1.275</text>
<text x="292.1" y="209.87" font-size="2.1" font-weight="bold" text-anchor="end" fill="#2a3040" textLength="4.2" lengthAdjust="spacingAndGlyphs">1.275</text>
<text x="292.1" y="214.89" font-size="2.1" font-weight="bold" text-anchor="end" fill="#2a3040" textLength="4.2" lengthAdjust="spacingAndGlyphs">1.275</text>
<text x="292.1" y="219.9" font-size="2.1" font-weight="bold" text-anchor="end" fill="#2a3040" textLength="4.2" lengthAdjust="spacingAndGlyphs">1.275</text>
<text transform="translate(286.7,177.45) rotate(-90)" font-size="2.3" font-weight="bold" text-anchor="middle" fill="#2a3040" stroke="#2a3040" stroke-width="0.15" textLength="21.5" lengthAdjust="spacingAndGlyphs">Fluorescence (x10 000)</text>
<text x="303.8" y="226.4" font-size="2.1" font-weight="bold" text-anchor="middle" fill="#333">5</text>
<text x="316.65" y="226.4" font-size="2.1" font-weight="bold" text-anchor="middle" fill="#333">10</text>
<text x="329.5" y="226.4" font-size="2.1" font-weight="bold" text-anchor="middle" fill="#333">15</text>
<text x="342.35" y="226.4" font-size="2.1" font-weight="bold" text-anchor="middle" fill="#333">20</text>
<text x="355.2" y="226.4" font-size="2.1" font-weight="bold" text-anchor="middle" fill="#333">25</text>
<text x="368.05" y="226.4" font-size="2.1" font-weight="bold" text-anchor="middle" fill="#333">30</text>
<text x="380.9" y="226.4" font-size="2.1" font-weight="bold" text-anchor="middle" fill="#333">35</text>
<text x="393.75" y="226.4" font-size="2.1" font-weight="bold" text-anchor="middle" fill="#333">40</text>
<text x="406.6" y="226.4" font-size="2.1" font-weight="bold" text-anchor="middle" fill="#333">45</text>
<text x="350.3" y="228.9" font-size="2" font-weight="bold" text-anchor="middle" fill="#333" textLength="5" lengthAdjust="spacingAndGlyphs">Cycles</text>
<path d="M293.5,219.5 C295.78,219.38 302.97,219.07 307.2,218.8 C311.43,218.53 315.02,218.28 318.9,217.9 C322.78,217.52 326.25,217.02 330.5,216.5 C334.75,215.98 339.75,215.27 344.4,214.8 C349.05,214.33 354.13,214.08 358.4,213.7 C362.67,213.32 366.13,212.97 370,212.5 C373.87,212.03 378.12,211.17 381.6,210.9 C385.08,210.63 387.02,211.22 390.9,210.9 C394.78,210.58 402.57,209.32 404.9,209" fill="none" stroke="#d0f2d4" stroke-width="1.15" stroke-linejoin="round" stroke-linecap="round"/>
<rect x="415" y="129" width="123" height="101.8" fill="#c3d4e7"/>
<rect x="415" y="129" width="123" height="2.0" fill="#cedae8"/>
<text x="464.4" y="131.9" font-size="2.4" font-weight="bold" fill="#454a58" textLength="23.5" lengthAdjust="spacingAndGlyphs">Amplification Curves</text>
<rect x="521.4" y="129.2" width="7.6" height="4" rx="1.2" fill="url(#gsel)"/>
<rect x="529.5" y="128.9" width="7" height="4.5" fill="#f4f5f7" stroke="#9aa2ac" stroke-width="0.3"/>
<line x1="531" y1="131.2" x2="535.2" y2="131.2" stroke="#666" stroke-width="0.6"/>
<rect x="422.7" y="134" width="114.2" height="90.5" fill="#fff"/>
<line x1="422.7" y1="134" x2="536.9" y2="134" stroke="#999" stroke-width="0.5"/>
<line x1="536.9" y1="134" x2="536.9" y2="224.5" stroke="#8a8a8a" stroke-width="0.8"/>
<line x1="422.7" y1="134" x2="422.7" y2="224.5" stroke="#7c7f86" stroke-width="0.75"/>
<line x1="422.7" y1="224.5" x2="536.9" y2="224.5" stroke="#7c7f86" stroke-width="0.75"/>
<text x="422.1" y="139.7" font-size="2.1" font-weight="bold" text-anchor="end" fill="#2a3040" textLength="4.2" lengthAdjust="spacingAndGlyphs">1.275</text>
<text x="422.1" y="144.71" font-size="2.1" font-weight="bold" text-anchor="end" fill="#2a3040" textLength="4.2" lengthAdjust="spacingAndGlyphs">1.275</text>
<text x="422.1" y="149.72" font-size="2.1" font-weight="bold" text-anchor="end" fill="#2a3040" textLength="4.2" lengthAdjust="spacingAndGlyphs">1.275</text>
<text x="422.1" y="154.74" font-size="2.1" font-weight="bold" text-anchor="end" fill="#2a3040" textLength="4.2" lengthAdjust="spacingAndGlyphs">1.275</text>
<text x="422.1" y="159.75" font-size="2.1" font-weight="bold" text-anchor="end" fill="#2a3040" textLength="4.2" lengthAdjust="spacingAndGlyphs">1.275</text>
<text x="422.1" y="164.76" font-size="2.1" font-weight="bold" text-anchor="end" fill="#2a3040" textLength="4.2" lengthAdjust="spacingAndGlyphs">1.275</text>
<text x="422.1" y="169.77" font-size="2.1" font-weight="bold" text-anchor="end" fill="#2a3040" textLength="4.2" lengthAdjust="spacingAndGlyphs">1.275</text>
<text x="422.1" y="174.79" font-size="2.1" font-weight="bold" text-anchor="end" fill="#2a3040" textLength="4.2" lengthAdjust="spacingAndGlyphs">1.275</text>
<text x="422.1" y="179.8" font-size="2.1" font-weight="bold" text-anchor="end" fill="#2a3040" textLength="4.2" lengthAdjust="spacingAndGlyphs">1.275</text>
<text x="422.1" y="184.81" font-size="2.1" font-weight="bold" text-anchor="end" fill="#2a3040" textLength="4.2" lengthAdjust="spacingAndGlyphs">1.275</text>
<text x="422.1" y="189.82" font-size="2.1" font-weight="bold" text-anchor="end" fill="#2a3040" textLength="4.2" lengthAdjust="spacingAndGlyphs">1.275</text>
<text x="422.1" y="194.84" font-size="2.1" font-weight="bold" text-anchor="end" fill="#2a3040" textLength="4.2" lengthAdjust="spacingAndGlyphs">1.275</text>
<text x="422.1" y="199.85" font-size="2.1" font-weight="bold" text-anchor="end" fill="#2a3040" textLength="4.2" lengthAdjust="spacingAndGlyphs">1.275</text>
<text x="422.1" y="204.86" font-size="2.1" font-weight="bold" text-anchor="end" fill="#2a3040" textLength="4.2" lengthAdjust="spacingAndGlyphs">1.275</text>
<text x="422.1" y="209.87" font-size="2.1" font-weight="bold" text-anchor="end" fill="#2a3040" textLength="4.2" lengthAdjust="spacingAndGlyphs">1.275</text>
<text x="422.1" y="214.89" font-size="2.1" font-weight="bold" text-anchor="end" fill="#2a3040" textLength="4.2" lengthAdjust="spacingAndGlyphs">1.275</text>
<text x="422.1" y="219.9" font-size="2.1" font-weight="bold" text-anchor="end" fill="#2a3040" textLength="4.2" lengthAdjust="spacingAndGlyphs">1.275</text>
<text transform="translate(416.7,177.45) rotate(-90)" font-size="2.3" font-weight="bold" text-anchor="middle" fill="#2a3040" stroke="#2a3040" stroke-width="0.15" textLength="21.5" lengthAdjust="spacingAndGlyphs">Fluorescence (x10 000)</text>
<text x="433.8" y="226.4" font-size="2.1" font-weight="bold" text-anchor="middle" fill="#333">5</text>
<text x="446.65" y="226.4" font-size="2.1" font-weight="bold" text-anchor="middle" fill="#333">10</text>
<text x="459.5" y="226.4" font-size="2.1" font-weight="bold" text-anchor="middle" fill="#333">15</text>
<text x="472.35" y="226.4" font-size="2.1" font-weight="bold" text-anchor="middle" fill="#333">20</text>
<text x="485.2" y="226.4" font-size="2.1" font-weight="bold" text-anchor="middle" fill="#333">25</text>
<text x="498.05" y="226.4" font-size="2.1" font-weight="bold" text-anchor="middle" fill="#333">30</text>
<text x="510.9" y="226.4" font-size="2.1" font-weight="bold" text-anchor="middle" fill="#333">35</text>
<text x="523.75" y="226.4" font-size="2.1" font-weight="bold" text-anchor="middle" fill="#333">40</text>
<text x="536.6" y="226.4" font-size="2.1" font-weight="bold" text-anchor="middle" fill="#333">45</text>
<text x="480.3" y="228.9" font-size="2" font-weight="bold" text-anchor="middle" fill="#333" textLength="5" lengthAdjust="spacingAndGlyphs">Cycles</text>
<path d="M424,217.9 C425.43,218.17 428.45,219.12 432.6,219.5 C436.75,219.88 443.48,220.17 448.9,220.2 C454.32,220.23 459.3,219.93 465.1,219.7 C470.9,219.47 477.88,219.22 483.7,218.8 C489.52,218.38 495.73,217.87 500,217.2 C504.27,216.53 506.2,215.47 509.3,214.8 C512.4,214.13 515.5,213.77 518.6,213.2 C521.7,212.63 525.12,211.9 527.9,211.4 C530.68,210.9 534.07,210.4 535.3,210.2" fill="none" stroke="#d0f2d4" stroke-width="1.15" stroke-linejoin="round" stroke-linecap="round"/>
<rect x="25" y="234" width="126" height="100.5" fill="#c3d4e7"/>
<rect x="25" y="234" width="126" height="2.6" fill="#cedae8"/>
<text x="69" y="238.1" font-size="4.1" font-weight="bold" fill="#10101a" stroke="#10101a" stroke-width="0.18" textLength="38" lengthAdjust="spacingAndGlyphs">Amplification Curves</text>
<rect x="125.2" y="233.9" width="11.8" height="5.2" fill="url(#gsel)" stroke="#35628f" stroke-width="0.4"/>
<text x="131.1" y="237.5" font-size="3.3" font-weight="bold" text-anchor="middle" fill="#1d3a5c" textLength="8" lengthAdjust="spacingAndGlyphs">Select</text>
<rect x="138.7" y="233.9" width="10" height="5.1" fill="#f7f8fa" stroke="#8c96a0" stroke-width="0.4"/>
<text x="144.1" y="237.4" font-size="3.2" text-anchor="middle" fill="#484848" textLength="7.2" lengthAdjust="spacingAndGlyphs">Zoom</text>
<rect x="39" y="240.5" width="111" height="85.2" fill="#fff"/>
<line x1="39" y1="240.5" x2="150" y2="240.5" stroke="#999" stroke-width="0.5"/>
<line x1="150" y1="234" x2="150" y2="325.7" stroke="#8a8a8a" stroke-width="0.8"/>
<line x1="39" y1="240.5" x2="39" y2="325.7" stroke="#666" stroke-width="0.75"/>
<line x1="39" y1="325.7" x2="150" y2="325.7" stroke="#666" stroke-width="0.75"/>
<text x="38.1" y="246.2" font-size="2.9" font-weight="bold" text-anchor="end" fill="#3e4654" textLength="6.9" lengthAdjust="spacingAndGlyphs">6.787</text>
<line x1="38.2" y1="245.1" x2="39" y2="245.1" stroke="#555" stroke-width="0.4"/>
<text x="38.1" y="252.89" font-size="2.9" font-weight="bold" text-anchor="end" fill="#3e4654" textLength="6.9" lengthAdjust="spacingAndGlyphs">6.178</text>
<line x1="38.2" y1="251.79" x2="39" y2="251.79" stroke="#555" stroke-width="0.4"/>
<text x="38.1" y="259.58" font-size="2.9" font-weight="bold" text-anchor="end" fill="#3e4654" textLength="6.9" lengthAdjust="spacingAndGlyphs">5.569</text>
<line x1="38.2" y1="258.48" x2="39" y2="258.48" stroke="#555" stroke-width="0.4"/>
<text x="38.1" y="266.27" font-size="2.9" font-weight="bold" text-anchor="end" fill="#3e4654" textLength="6.9" lengthAdjust="spacingAndGlyphs">4.960</text>
<line x1="38.2" y1="265.17" x2="39" y2="265.17" stroke="#555" stroke-width="0.4"/>
<text x="38.1" y="272.96" font-size="2.9" font-weight="bold" text-anchor="end" fill="#3e4654" textLength="6.9" lengthAdjust="spacingAndGlyphs">4.351</text>
<line x1="38.2" y1="271.86" x2="39" y2="271.86" stroke="#555" stroke-width="0.4"/>
<text x="38.1" y="279.65" font-size="2.9" font-weight="bold" text-anchor="end" fill="#3e4654" textLength="6.9" lengthAdjust="spacingAndGlyphs">3.742</text>
<line x1="38.2" y1="278.55" x2="39" y2="278.55" stroke="#555" stroke-width="0.4"/>
<text x="38.1" y="286.35" font-size="2.9" font-weight="bold" text-anchor="end" fill="#3e4654" textLength="6.9" lengthAdjust="spacingAndGlyphs">3.132</text>
<line x1="38.2" y1="285.25" x2="39" y2="285.25" stroke="#555" stroke-width="0.4"/>
<text x="38.1" y="293.04" font-size="2.9" font-weight="bold" text-anchor="end" fill="#3e4654" textLength="6.9" lengthAdjust="spacingAndGlyphs">2.523</text>
<line x1="38.2" y1="291.94" x2="39" y2="291.94" stroke="#555" stroke-width="0.4"/>
<text x="38.1" y="299.73" font-size="2.9" font-weight="bold" text-anchor="end" fill="#3e4654" textLength="6.9" lengthAdjust="spacingAndGlyphs">1.914</text>
<line x1="38.2" y1="298.63" x2="39" y2="298.63" stroke="#555" stroke-width="0.4"/>
<text x="38.1" y="306.42" font-size="2.9" font-weight="bold" text-anchor="end" fill="#3e4654" textLength="6.9" lengthAdjust="spacingAndGlyphs">1.305</text>
<line x1="38.2" y1="305.32" x2="39" y2="305.32" stroke="#555" stroke-width="0.4"/>
<text x="38.1" y="313.11" font-size="2.9" font-weight="bold" text-anchor="end" fill="#3e4654" textLength="6.9" lengthAdjust="spacingAndGlyphs">0.696</text>
<line x1="38.2" y1="312.01" x2="39" y2="312.01" stroke="#555" stroke-width="0.4"/>
<text x="38.1" y="319.8" font-size="2.9" font-weight="bold" text-anchor="end" fill="#3e4654" textLength="6.9" lengthAdjust="spacingAndGlyphs">0.087</text>
<line x1="38.2" y1="318.7" x2="39" y2="318.7" stroke="#555" stroke-width="0.4"/>
<text transform="translate(28.3,281.5) rotate(-90)" font-size="2.8" font-weight="bold" text-anchor="middle" fill="#1a1a2a" textLength="34" lengthAdjust="spacingAndGlyphs">Fluorescence (x10 000)</text>
<line x1="62.4" y1="325.7" x2="62.4" y2="326.6" stroke="#555" stroke-width="0.4"/>
<text x="62.4" y="329.7" font-size="3.1" text-anchor="middle" fill="#2a2a3a">10</text>
<line x1="87.3" y1="325.7" x2="87.3" y2="326.6" stroke="#555" stroke-width="0.4"/>
<text x="87.3" y="329.7" font-size="3.1" text-anchor="middle" fill="#2a2a3a">20</text>
<line x1="112.2" y1="325.7" x2="112.2" y2="326.6" stroke="#555" stroke-width="0.4"/>
<text x="112.2" y="329.7" font-size="3.1" text-anchor="middle" fill="#2a2a3a">30</text>
<line x1="137.1" y1="325.7" x2="137.1" y2="326.6" stroke="#555" stroke-width="0.4"/>
<text x="137.1" y="329.7" font-size="3.1" text-anchor="middle" fill="#2a2a3a">40</text>
<text x="95.2" y="333.2" font-size="3.4" font-weight="bold" text-anchor="middle" fill="#1a1a2a" stroke="#1a1a2a" stroke-width="0.12" textLength="10.5" lengthAdjust="spacingAndGlyphs">Cycles</text>
<path d="M40.1,318.1 C42.53,318.18 49.52,318.57 54.7,318.6 C59.88,318.63 64.5,318.38 71.2,318.3 C77.9,318.22 87.52,318.22 94.9,318.1 C102.28,317.98 111.23,317.95 115.5,317.6 C119.77,317.25 119.03,317.1 120.5,316 C121.97,314.9 122.88,314.43 124.3,311 C125.72,307.57 127.62,300.4 129,295.4 C130.38,290.4 131.37,285.73 132.6,281 C133.83,276.27 134.97,271.2 136.4,267 C137.83,262.8 139.17,259.22 141.2,255.8 C143.23,252.38 147.37,248.05 148.6,246.5" fill="none" stroke="#e8b6c2" stroke-width="1.0" stroke-linejoin="round" stroke-linecap="round"/>
<rect x="155" y="234" width="125.5" height="100.5" fill="#c3d4e7"/>
<rect x="155" y="234" width="125.5" height="2.6" fill="#cedae8"/>
<text x="199" y="238.1" font-size="4.1" font-weight="bold" fill="#10101a" stroke="#10101a" stroke-width="0.18" textLength="38" lengthAdjust="spacingAndGlyphs">Amplification Curves</text>
<rect x="254.7" y="233.9" width="11.8" height="5.2" fill="url(#gsel)" stroke="#35628f" stroke-width="0.4"/>
<text x="260.6" y="237.5" font-size="3.3" font-weight="bold" text-anchor="middle" fill="#1d3a5c" textLength="8" lengthAdjust="spacingAndGlyphs">Select</text>
<rect x="268.2" y="233.9" width="10" height="5.1" fill="#f7f8fa" stroke="#8c96a0" stroke-width="0.4"/>
<text x="273.6" y="237.4" font-size="3.2" text-anchor="middle" fill="#484848" textLength="7.2" lengthAdjust="spacingAndGlyphs">Zoom</text>
<rect x="168.5" y="240.5" width="111" height="85.2" fill="#fff"/>
<line x1="168.5" y1="240.5" x2="279.5" y2="240.5" stroke="#999" stroke-width="0.5"/>
<line x1="279.5" y1="234" x2="279.5" y2="325.7" stroke="#8a8a8a" stroke-width="0.8"/>
<line x1="168.5" y1="240.5" x2="168.5" y2="325.7" stroke="#666" stroke-width="0.75"/>
<line x1="168.5" y1="325.7" x2="279.5" y2="325.7" stroke="#666" stroke-width="0.75"/>
<text x="167.6" y="247" font-size="2.9" font-weight="bold" text-anchor="end" fill="#3e4654" textLength="6.9" lengthAdjust="spacingAndGlyphs">4.671</text>
<line x1="167.7" y1="245.9" x2="168.5" y2="245.9" stroke="#555" stroke-width="0.4"/>
<text x="167.6" y="262.65" font-size="2.9" font-weight="bold" text-anchor="end" fill="#3e4654" textLength="6.9" lengthAdjust="spacingAndGlyphs">3.671</text>
<line x1="167.7" y1="261.55" x2="168.5" y2="261.55" stroke="#555" stroke-width="0.4"/>
<text x="167.6" y="278.3" font-size="2.9" font-weight="bold" text-anchor="end" fill="#3e4654" textLength="6.9" lengthAdjust="spacingAndGlyphs">2.671</text>
<line x1="167.7" y1="277.2" x2="168.5" y2="277.2" stroke="#555" stroke-width="0.4"/>
<text x="167.6" y="293.95" font-size="2.9" font-weight="bold" text-anchor="end" fill="#3e4654" textLength="6.9" lengthAdjust="spacingAndGlyphs">1.671</text>
<line x1="167.7" y1="292.85" x2="168.5" y2="292.85" stroke="#555" stroke-width="0.4"/>
<text x="167.6" y="309.6" font-size="2.9" font-weight="bold" text-anchor="end" fill="#3e4654" textLength="6.9" lengthAdjust="spacingAndGlyphs">0.671</text>
<line x1="167.7" y1="308.5" x2="168.5" y2="308.5" stroke="#555" stroke-width="0.4"/>
<text transform="translate(158.3,281.5) rotate(-90)" font-size="2.8" font-weight="bold" text-anchor="middle" fill="#1a1a2a" textLength="34" lengthAdjust="spacingAndGlyphs">Fluorescence (x10 000)</text>
<line x1="192.7" y1="325.7" x2="192.7" y2="326.6" stroke="#555" stroke-width="0.4"/>
<text x="192.7" y="329.7" font-size="3.1" text-anchor="middle" fill="#2a2a3a">10</text>
<line x1="217.5" y1="325.7" x2="217.5" y2="326.6" stroke="#555" stroke-width="0.4"/>
<text x="217.5" y="329.7" font-size="3.1" text-anchor="middle" fill="#2a2a3a">20</text>
<line x1="242.3" y1="325.7" x2="242.3" y2="326.6" stroke="#555" stroke-width="0.4"/>
<text x="242.3" y="329.7" font-size="3.1" text-anchor="middle" fill="#2a2a3a">30</text>
<line x1="267.1" y1="325.7" x2="267.1" y2="326.6" stroke="#555" stroke-width="0.4"/>
<text x="267.1" y="329.7" font-size="3.1" text-anchor="middle" fill="#2a2a3a">40</text>
<text x="225.2" y="333.2" font-size="3.4" font-weight="bold" text-anchor="middle" fill="#1a1a2a" stroke="#1a1a2a" stroke-width="0.12" textLength="10.5" lengthAdjust="spacingAndGlyphs">Cycles</text>
<path d="M169.6,313.1 C170.93,313.42 173.9,314.22 177.6,315 C181.3,315.78 185.9,317.13 191.8,317.8 C197.7,318.47 206.32,318.72 213,319 C219.68,319.28 226.18,319.5 231.9,319.5 C237.62,319.5 243.95,319.47 247.3,319 C250.65,318.53 250.43,318.27 252,316.7 C253.57,315.13 255.12,313.55 256.7,309.6 C258.28,305.65 259.92,298.72 261.5,293 C263.08,287.28 264.63,280.42 266.2,275.3 C267.77,270.18 269.33,265.95 270.9,262.3 C272.47,258.65 274.3,255.75 275.6,253.4 C276.9,251.05 278.18,249.07 278.7,248.2" fill="none" stroke="#e8b6c2" stroke-width="1.0" stroke-linejoin="round" stroke-linecap="round"/>
<rect x="285" y="234" width="124" height="101.3" fill="#c3d4e7"/>
<rect x="285" y="234" width="124" height="2.0" fill="#cedae8"/>
<text x="334.4" y="236.9" font-size="2.4" font-weight="bold" fill="#454a58" textLength="23.5" lengthAdjust="spacingAndGlyphs">Amplification Curves</text>
<rect x="392.4" y="234.2" width="7.6" height="4" rx="1.2" fill="url(#gsel)"/>
<rect x="400.5" y="233.9" width="7" height="4.5" fill="#f4f5f7" stroke="#9aa2ac" stroke-width="0.3"/>
<line x1="402" y1="236.2" x2="406.2" y2="236.2" stroke="#666" stroke-width="0.6"/>
<rect x="292.7" y="239" width="115.2" height="90" fill="#fff"/>
<line x1="292.7" y1="239" x2="407.9" y2="239" stroke="#999" stroke-width="0.5"/>
<line x1="407.9" y1="239" x2="407.9" y2="329" stroke="#8a8a8a" stroke-width="0.8"/>
<line x1="292.7" y1="239" x2="292.7" y2="329" stroke="#7c7f86" stroke-width="0.75"/>
<line x1="292.7" y1="329" x2="407.9" y2="329" stroke="#7c7f86" stroke-width="0.75"/>
<text x="292.1" y="244.7" font-size="2.1" font-weight="bold" text-anchor="end" fill="#2a3040" textLength="4.2" lengthAdjust="spacingAndGlyphs">1.275</text>
<text x="292.1" y="249.68" font-size="2.1" font-weight="bold" text-anchor="end" fill="#2a3040" textLength="4.2" lengthAdjust="spacingAndGlyphs">1.275</text>
<text x="292.1" y="254.66" font-size="2.1" font-weight="bold" text-anchor="end" fill="#2a3040" textLength="4.2" lengthAdjust="spacingAndGlyphs">1.275</text>
<text x="292.1" y="259.64" font-size="2.1" font-weight="bold" text-anchor="end" fill="#2a3040" textLength="4.2" lengthAdjust="spacingAndGlyphs">1.275</text>
<text x="292.1" y="264.62" font-size="2.1" font-weight="bold" text-anchor="end" fill="#2a3040" textLength="4.2" lengthAdjust="spacingAndGlyphs">1.275</text>
<text x="292.1" y="269.61" font-size="2.1" font-weight="bold" text-anchor="end" fill="#2a3040" textLength="4.2" lengthAdjust="spacingAndGlyphs">1.275</text>
<text x="292.1" y="274.59" font-size="2.1" font-weight="bold" text-anchor="end" fill="#2a3040" textLength="4.2" lengthAdjust="spacingAndGlyphs">1.275</text>
<text x="292.1" y="279.57" font-size="2.1" font-weight="bold" text-anchor="end" fill="#2a3040" textLength="4.2" lengthAdjust="spacingAndGlyphs">1.275</text>
<text x="292.1" y="284.55" font-size="2.1" font-weight="bold" text-anchor="end" fill="#2a3040" textLength="4.2" lengthAdjust="spacingAndGlyphs">1.275</text>
<text x="292.1" y="289.53" font-size="2.1" font-weight="bold" text-anchor="end" fill="#2a3040" textLength="4.2" lengthAdjust="spacingAndGlyphs">1.275</text>
<text x="292.1" y="294.51" font-size="2.1" font-weight="bold" text-anchor="end" fill="#2a3040" textLength="4.2" lengthAdjust="spacingAndGlyphs">1.275</text>
<text x="292.1" y="299.49" font-size="2.1" font-weight="bold" text-anchor="end" fill="#2a3040" textLength="4.2" lengthAdjust="spacingAndGlyphs">1.275</text>
<text x="292.1" y="304.47" font-size="2.1" font-weight="bold" text-anchor="end" fill="#2a3040" textLength="4.2" lengthAdjust="spacingAndGlyphs">1.275</text>
<text x="292.1" y="309.46" font-size="2.1" font-weight="bold" text-anchor="end" fill="#2a3040" textLength="4.2" lengthAdjust="spacingAndGlyphs">1.275</text>
<text x="292.1" y="314.44" font-size="2.1" font-weight="bold" text-anchor="end" fill="#2a3040" textLength="4.2" lengthAdjust="spacingAndGlyphs">1.275</text>
<text x="292.1" y="319.42" font-size="2.1" font-weight="bold" text-anchor="end" fill="#2a3040" textLength="4.2" lengthAdjust="spacingAndGlyphs">1.275</text>
<text x="292.1" y="324.4" font-size="2.1" font-weight="bold" text-anchor="end" fill="#2a3040" textLength="4.2" lengthAdjust="spacingAndGlyphs">1.275</text>
<text transform="translate(286.7,282.7) rotate(-90)" font-size="2.3" font-weight="bold" text-anchor="middle" fill="#2a3040" stroke="#2a3040" stroke-width="0.15" textLength="21.5" lengthAdjust="spacingAndGlyphs">Fluorescence (x10 000)</text>
<text x="303.8" y="330.9" font-size="2.1" font-weight="bold" text-anchor="middle" fill="#333">5</text>
<text x="316.65" y="330.9" font-size="2.1" font-weight="bold" text-anchor="middle" fill="#333">10</text>
<text x="329.5" y="330.9" font-size="2.1" font-weight="bold" text-anchor="middle" fill="#333">15</text>
<text x="342.35" y="330.9" font-size="2.1" font-weight="bold" text-anchor="middle" fill="#333">20</text>
<text x="355.2" y="330.9" font-size="2.1" font-weight="bold" text-anchor="middle" fill="#333">25</text>
<text x="368.05" y="330.9" font-size="2.1" font-weight="bold" text-anchor="middle" fill="#333">30</text>
<text x="380.9" y="330.9" font-size="2.1" font-weight="bold" text-anchor="middle" fill="#333">35</text>
<text x="393.75" y="330.9" font-size="2.1" font-weight="bold" text-anchor="middle" fill="#333">40</text>
<text x="406.6" y="330.9" font-size="2.1" font-weight="bold" text-anchor="middle" fill="#333">45</text>
<text x="350.3" y="333.4" font-size="2" font-weight="bold" text-anchor="middle" fill="#333" textLength="5" lengthAdjust="spacingAndGlyphs">Cycles</text>
<path d="M293.5,325.8 C295.02,325.42 299.15,324.67 302.6,323.5 C306.05,322.33 310.33,319.97 314.2,318.8 C318.07,317.63 321.53,317.27 325.8,316.5 C330.07,315.73 335.15,314.97 339.8,314.2 C344.45,313.43 349.05,312.48 353.7,311.9 C358.35,311.32 363.05,311.1 367.7,310.7 C372.35,310.3 377.73,309.88 381.6,309.5 C385.47,309.12 387.02,308.52 390.9,308.4 C394.78,308.28 402.57,308.73 404.9,308.8" fill="none" stroke="#d0f2d4" stroke-width="1.15" stroke-linejoin="round" stroke-linecap="round"/>
<rect x="415" y="234" width="123" height="101.3" fill="#c3d4e7"/>
<rect x="415" y="234" width="123" height="2.0" fill="#cedae8"/>
<text x="464.4" y="236.9" font-size="2.4" font-weight="bold" fill="#454a58" textLength="23.5" lengthAdjust="spacingAndGlyphs">Amplification Curves</text>
<rect x="521.4" y="234.2" width="7.6" height="4" rx="1.2" fill="url(#gsel)"/>
<rect x="529.5" y="233.9" width="7" height="4.5" fill="#f4f5f7" stroke="#9aa2ac" stroke-width="0.3"/>
<line x1="531" y1="236.2" x2="535.2" y2="236.2" stroke="#666" stroke-width="0.6"/>
<rect x="422.7" y="239" width="114.2" height="90" fill="#fff"/>
<line x1="422.7" y1="239" x2="536.9" y2="239" stroke="#999" stroke-width="0.5"/>
<line x1="536.9" y1="239" x2="536.9" y2="329" stroke="#8a8a8a" stroke-width="0.8"/>
<line x1="422.7" y1="239" x2="422.7" y2="329" stroke="#7c7f86" stroke-width="0.75"/>
<line x1="422.7" y1="329" x2="536.9" y2="329" stroke="#7c7f86" stroke-width="0.75"/>
<text x="422.1" y="244.7" font-size="2.1" font-weight="bold" text-anchor="end" fill="#2a3040" textLength="4.2" lengthAdjust="spacingAndGlyphs">1.275</text>
<text x="422.1" y="249.68" font-size="2.1" font-weight="bold" text-anchor="end" fill="#2a3040" textLength="4.2" lengthAdjust="spacingAndGlyphs">1.275</text>
<text x="422.1" y="254.66" font-size="2.1" font-weight="bold" text-anchor="end" fill="#2a3040" textLength="4.2" lengthAdjust="spacingAndGlyphs">1.275</text>
<text x="422.1" y="259.64" font-size="2.1" font-weight="bold" text-anchor="end" fill="#2a3040" textLength="4.2" lengthAdjust="spacingAndGlyphs">1.275</text>
<text x="422.1" y="264.62" font-size="2.1" font-weight="bold" text-anchor="end" fill="#2a3040" textLength="4.2" lengthAdjust="spacingAndGlyphs">1.275</text>
<text x="422.1" y="269.61" font-size="2.1" font-weight="bold" text-anchor="end" fill="#2a3040" textLength="4.2" lengthAdjust="spacingAndGlyphs">1.275</text>
<text x="422.1" y="274.59" font-size="2.1" font-weight="bold" text-anchor="end" fill="#2a3040" textLength="4.2" lengthAdjust="spacingAndGlyphs">1.275</text>
<text x="422.1" y="279.57" font-size="2.1" font-weight="bold" text-anchor="end" fill="#2a3040" textLength="4.2" lengthAdjust="spacingAndGlyphs">1.275</text>
<text x="422.1" y="284.55" font-size="2.1" font-weight="bold" text-anchor="end" fill="#2a3040" textLength="4.2" lengthAdjust="spacingAndGlyphs">1.275</text>
<text x="422.1" y="289.53" font-size="2.1" font-weight="bold" text-anchor="end" fill="#2a3040" textLength="4.2" lengthAdjust="spacingAndGlyphs">1.275</text>
<text x="422.1" y="294.51" font-size="2.1" font-weight="bold" text-anchor="end" fill="#2a3040" textLength="4.2" lengthAdjust="spacingAndGlyphs">1.275</text>
<text x="422.1" y="299.49" font-size="2.1" font-weight="bold" text-anchor="end" fill="#2a3040" textLength="4.2" lengthAdjust="spacingAndGlyphs">1.275</text>
<text x="422.1" y="304.47" font-size="2.1" font-weight="bold" text-anchor="end" fill="#2a3040" textLength="4.2" lengthAdjust="spacingAndGlyphs">1.275</text>
<text x="422.1" y="309.46" font-size="2.1" font-weight="bold" text-anchor="end" fill="#2a3040" textLength="4.2" lengthAdjust="spacingAndGlyphs">1.275</text>
<text x="422.1" y="314.44" font-size="2.1" font-weight="bold" text-anchor="end" fill="#2a3040" textLength="4.2" lengthAdjust="spacingAndGlyphs">1.275</text>
<text x="422.1" y="319.42" font-size="2.1" font-weight="bold" text-anchor="end" fill="#2a3040" textLength="4.2" lengthAdjust="spacingAndGlyphs">1.275</text>
<text x="422.1" y="324.4" font-size="2.1" font-weight="bold" text-anchor="end" fill="#2a3040" textLength="4.2" lengthAdjust="spacingAndGlyphs">1.275</text>
<text transform="translate(416.7,282.7) rotate(-90)" font-size="2.3" font-weight="bold" text-anchor="middle" fill="#2a3040" stroke="#2a3040" stroke-width="0.15" textLength="21.5" lengthAdjust="spacingAndGlyphs">Fluorescence (x10 000)</text>
<text x="433.8" y="330.9" font-size="2.1" font-weight="bold" text-anchor="middle" fill="#333">5</text>
<text x="446.65" y="330.9" font-size="2.1" font-weight="bold" text-anchor="middle" fill="#333">10</text>
<text x="459.5" y="330.9" font-size="2.1" font-weight="bold" text-anchor="middle" fill="#333">15</text>
<text x="472.35" y="330.9" font-size="2.1" font-weight="bold" text-anchor="middle" fill="#333">20</text>
<text x="485.2" y="330.9" font-size="2.1" font-weight="bold" text-anchor="middle" fill="#333">25</text>
<text x="498.05" y="330.9" font-size="2.1" font-weight="bold" text-anchor="middle" fill="#333">30</text>
<text x="510.9" y="330.9" font-size="2.1" font-weight="bold" text-anchor="middle" fill="#333">35</text>
<text x="523.75" y="330.9" font-size="2.1" font-weight="bold" text-anchor="middle" fill="#333">40</text>
<text x="536.6" y="330.9" font-size="2.1" font-weight="bold" text-anchor="middle" fill="#333">45</text>
<text x="480.3" y="333.4" font-size="2" font-weight="bold" text-anchor="middle" fill="#333" textLength="5" lengthAdjust="spacingAndGlyphs">Cycles</text>
<path d="M424,324.2 C425.43,324.2 429.23,324.43 432.6,324.2 C435.97,323.97 440.33,323.18 444.2,322.8 C448.07,322.42 451.53,322.17 455.8,321.9 C460.07,321.63 465.15,321.43 469.8,321.2 C474.45,320.97 479.05,320.78 483.7,320.5 C488.35,320.22 493.05,319.78 497.7,319.5 C502.35,319.22 507.92,319.1 511.6,318.8 C515.28,318.5 517.08,318.27 519.8,317.7 C522.52,317.13 525.32,316.1 527.9,315.4 C530.48,314.7 534.07,313.82 535.3,313.5" fill="none" stroke="#d0f2d4" stroke-width="1.15" stroke-linejoin="round" stroke-linecap="round"/>
<rect x="25" y="338.6" width="126" height="101.1" fill="#c3d4e7"/>
<rect x="25" y="338.6" width="126" height="2.6" fill="#cedae8"/>
<text x="69" y="342.7" font-size="4.1" font-weight="bold" fill="#10101a" stroke="#10101a" stroke-width="0.18" textLength="38" lengthAdjust="spacingAndGlyphs">Amplification Curves</text>
<rect x="125.2" y="338.5" width="11.8" height="5.2" fill="url(#gsel)" stroke="#35628f" stroke-width="0.4"/>
<text x="131.1" y="342.1" font-size="3.3" font-weight="bold" text-anchor="middle" fill="#1d3a5c" textLength="8" lengthAdjust="spacingAndGlyphs">Select</text>
<rect x="138.7" y="338.5" width="10" height="5.1" fill="#f7f8fa" stroke="#8c96a0" stroke-width="0.4"/>
<text x="144.1" y="342" font-size="3.2" text-anchor="middle" fill="#484848" textLength="7.2" lengthAdjust="spacingAndGlyphs">Zoom</text>
<rect x="39" y="345.1" width="111" height="85.8" fill="#fff"/>
<line x1="39" y1="345.1" x2="150" y2="345.1" stroke="#999" stroke-width="0.5"/>
<line x1="150" y1="338.6" x2="150" y2="430.9" stroke="#8a8a8a" stroke-width="0.8"/>
<line x1="39" y1="345.1" x2="39" y2="430.9" stroke="#666" stroke-width="0.75"/>
<line x1="39" y1="430.9" x2="150" y2="430.9" stroke="#666" stroke-width="0.75"/>
<text x="38.1" y="351.5" font-size="2.9" font-weight="bold" text-anchor="end" fill="#3e4654" textLength="6.9" lengthAdjust="spacingAndGlyphs">6.790</text>
<line x1="38.2" y1="350.4" x2="39" y2="350.4" stroke="#555" stroke-width="0.4"/>
<text x="38.1" y="358.62" font-size="2.9" font-weight="bold" text-anchor="end" fill="#3e4654" textLength="6.9" lengthAdjust="spacingAndGlyphs">6.130</text>
<line x1="38.2" y1="357.52" x2="39" y2="357.52" stroke="#555" stroke-width="0.4"/>
<text x="38.1" y="365.74" font-size="2.9" font-weight="bold" text-anchor="end" fill="#3e4654" textLength="6.9" lengthAdjust="spacingAndGlyphs">5.470</text>
<line x1="38.2" y1="364.64" x2="39" y2="364.64" stroke="#555" stroke-width="0.4"/>
<text x="38.1" y="372.86" font-size="2.9" font-weight="bold" text-anchor="end" fill="#3e4654" textLength="6.9" lengthAdjust="spacingAndGlyphs">4.810</text>
<line x1="38.2" y1="371.76" x2="39" y2="371.76" stroke="#555" stroke-width="0.4"/>
<text x="38.1" y="379.98" font-size="2.9" font-weight="bold" text-anchor="end" fill="#3e4654" textLength="6.9" lengthAdjust="spacingAndGlyphs">4.150</text>
<line x1="38.2" y1="378.88" x2="39" y2="378.88" stroke="#555" stroke-width="0.4"/>
<text x="38.1" y="387.1" font-size="2.9" font-weight="bold" text-anchor="end" fill="#3e4654" textLength="6.9" lengthAdjust="spacingAndGlyphs">3.490</text>
<line x1="38.2" y1="386" x2="39" y2="386" stroke="#555" stroke-width="0.4"/>
<text x="38.1" y="394.22" font-size="2.9" font-weight="bold" text-anchor="end" fill="#3e4654" textLength="6.9" lengthAdjust="spacingAndGlyphs">2.830</text>
<line x1="38.2" y1="393.12" x2="39" y2="393.12" stroke="#555" stroke-width="0.4"/>
<text x="38.1" y="401.34" font-size="2.9" font-weight="bold" text-anchor="end" fill="#3e4654" textLength="6.9" lengthAdjust="spacingAndGlyphs">2.170</text>
<line x1="38.2" y1="400.24" x2="39" y2="400.24" stroke="#555" stroke-width="0.4"/>
<text x="38.1" y="408.46" font-size="2.9" font-weight="bold" text-anchor="end" fill="#3e4654" textLength="6.9" lengthAdjust="spacingAndGlyphs">1.510</text>
<line x1="38.2" y1="407.36" x2="39" y2="407.36" stroke="#555" stroke-width="0.4"/>
<text x="38.1" y="415.58" font-size="2.9" font-weight="bold" text-anchor="end" fill="#3e4654" textLength="6.9" lengthAdjust="spacingAndGlyphs">0.850</text>
<line x1="38.2" y1="414.48" x2="39" y2="414.48" stroke="#555" stroke-width="0.4"/>
<text x="38.1" y="422.7" font-size="2.9" font-weight="bold" text-anchor="end" fill="#3e4654" textLength="6.9" lengthAdjust="spacingAndGlyphs">0.190</text>
<line x1="38.2" y1="421.6" x2="39" y2="421.6" stroke="#555" stroke-width="0.4"/>
<text transform="translate(28.3,387.1) rotate(-90)" font-size="2.8" font-weight="bold" text-anchor="middle" fill="#1a1a2a" textLength="34" lengthAdjust="spacingAndGlyphs">Fluorescence (x10 000)</text>
<line x1="62.4" y1="430.9" x2="62.4" y2="431.8" stroke="#555" stroke-width="0.4"/>
<text x="62.4" y="434.9" font-size="3.1" text-anchor="middle" fill="#2a2a3a">10</text>
<line x1="87.3" y1="430.9" x2="87.3" y2="431.8" stroke="#555" stroke-width="0.4"/>
<text x="87.3" y="434.9" font-size="3.1" text-anchor="middle" fill="#2a2a3a">20</text>
<line x1="112.2" y1="430.9" x2="112.2" y2="431.8" stroke="#555" stroke-width="0.4"/>
<text x="112.2" y="434.9" font-size="3.1" text-anchor="middle" fill="#2a2a3a">30</text>
<line x1="137.1" y1="430.9" x2="137.1" y2="431.8" stroke="#555" stroke-width="0.4"/>
<text x="137.1" y="434.9" font-size="3.1" text-anchor="middle" fill="#2a2a3a">40</text>
<text x="95.2" y="438.4" font-size="3.4" font-weight="bold" text-anchor="middle" fill="#1a1a2a" stroke="#1a1a2a" stroke-width="0.12" textLength="10.5" lengthAdjust="spacingAndGlyphs">Cycles</text>
<path d="M40.1,424.2 C43.32,424.23 52.25,424.37 59.4,424.4 C66.55,424.43 75.52,424.43 83,424.4 C90.48,424.37 98.72,424.37 104.3,424.2 C109.88,424.03 113.72,424.1 116.5,423.4 C119.28,422.7 119.5,421.98 121,420 C122.5,418.02 124,415.72 125.5,411.5 C127,407.28 128.48,400.45 130,394.7 C131.52,388.95 133,381.92 134.6,377 C136.2,372.08 137.98,368.35 139.6,365.2 C141.22,362.05 142.77,360.2 144.3,358.1 C145.83,356 148.05,353.52 148.8,352.6" fill="none" stroke="#e8b6c2" stroke-width="1.0" stroke-linejoin="round" stroke-linecap="round"/>
<rect x="155" y="338.6" width="125.5" height="101.1" fill="#c3d4e7"/>
<rect x="155" y="338.6" width="125.5" height="2.6" fill="#cedae8"/>
<text x="199" y="342.7" font-size="4.1" font-weight="bold" fill="#10101a" stroke="#10101a" stroke-width="0.18" textLength="38" lengthAdjust="spacingAndGlyphs">Amplification Curves</text>
<rect x="254.7" y="338.5" width="11.8" height="5.2" fill="url(#gsel)" stroke="#35628f" stroke-width="0.4"/>
<text x="260.6" y="342.1" font-size="3.3" font-weight="bold" text-anchor="middle" fill="#1d3a5c" textLength="8" lengthAdjust="spacingAndGlyphs">Select</text>
<rect x="268.2" y="338.5" width="10" height="5.1" fill="#f7f8fa" stroke="#8c96a0" stroke-width="0.4"/>
<text x="273.6" y="342" font-size="3.2" text-anchor="middle" fill="#484848" textLength="7.2" lengthAdjust="spacingAndGlyphs">Zoom</text>
<rect x="168.5" y="345.1" width="111" height="85.8" fill="#fff"/>
<line x1="168.5" y1="345.1" x2="279.5" y2="345.1" stroke="#999" stroke-width="0.5"/>
<line x1="279.5" y1="338.6" x2="279.5" y2="430.9" stroke="#8a8a8a" stroke-width="0.8"/>
<line x1="168.5" y1="345.1" x2="168.5" y2="430.9" stroke="#666" stroke-width="0.75"/>
<line x1="168.5" y1="430.9" x2="279.5" y2="430.9" stroke="#666" stroke-width="0.75"/>
<text x="167.6" y="351.5" font-size="2.9" font-weight="bold" text-anchor="end" fill="#3e4654" textLength="6.9" lengthAdjust="spacingAndGlyphs">2.275</text>
<line x1="167.7" y1="350.4" x2="168.5" y2="350.4" stroke="#555" stroke-width="0.4"/>
<text x="167.6" y="357.61" font-size="2.9" font-weight="bold" text-anchor="end" fill="#3e4654" textLength="6.9" lengthAdjust="spacingAndGlyphs">2.088</text>
<line x1="167.7" y1="356.51" x2="168.5" y2="356.51" stroke="#555" stroke-width="0.4"/>
<text x="167.6" y="363.72" font-size="2.9" font-weight="bold" text-anchor="end" fill="#3e4654" textLength="6.9" lengthAdjust="spacingAndGlyphs">1.900</text>
<line x1="167.7" y1="362.62" x2="168.5" y2="362.62" stroke="#555" stroke-width="0.4"/>
<text x="167.6" y="369.82" font-size="2.9" font-weight="bold" text-anchor="end" fill="#3e4654" textLength="6.9" lengthAdjust="spacingAndGlyphs">1.713</text>
<line x1="167.7" y1="368.72" x2="168.5" y2="368.72" stroke="#555" stroke-width="0.4"/>
<text x="167.6" y="375.93" font-size="2.9" font-weight="bold" text-anchor="end" fill="#3e4654" textLength="6.9" lengthAdjust="spacingAndGlyphs">1.526</text>
<line x1="167.7" y1="374.83" x2="168.5" y2="374.83" stroke="#555" stroke-width="0.4"/>
<text x="167.6" y="382.04" font-size="2.9" font-weight="bold" text-anchor="end" fill="#3e4654" textLength="6.9" lengthAdjust="spacingAndGlyphs">1.338</text>
<line x1="167.7" y1="380.94" x2="168.5" y2="380.94" stroke="#555" stroke-width="0.4"/>
<text x="167.6" y="388.15" font-size="2.9" font-weight="bold" text-anchor="end" fill="#3e4654" textLength="6.9" lengthAdjust="spacingAndGlyphs">1.151</text>
<line x1="167.7" y1="387.05" x2="168.5" y2="387.05" stroke="#555" stroke-width="0.4"/>
<text x="167.6" y="394.26" font-size="2.9" font-weight="bold" text-anchor="end" fill="#3e4654" textLength="6.9" lengthAdjust="spacingAndGlyphs">0.964</text>
<line x1="167.7" y1="393.16" x2="168.5" y2="393.16" stroke="#555" stroke-width="0.4"/>
<text x="167.6" y="400.37" font-size="2.9" font-weight="bold" text-anchor="end" fill="#3e4654" textLength="6.9" lengthAdjust="spacingAndGlyphs">0.776</text>
<line x1="167.7" y1="399.27" x2="168.5" y2="399.27" stroke="#555" stroke-width="0.4"/>
<text x="167.6" y="406.48" font-size="2.9" font-weight="bold" text-anchor="end" fill="#3e4654" textLength="6.9" lengthAdjust="spacingAndGlyphs">0.589</text>
<line x1="167.7" y1="405.38" x2="168.5" y2="405.38" stroke="#555" stroke-width="0.4"/>
<text x="167.6" y="412.58" font-size="2.9" font-weight="bold" text-anchor="end" fill="#3e4654" textLength="6.9" lengthAdjust="spacingAndGlyphs">0.402</text>
<line x1="167.7" y1="411.48" x2="168.5" y2="411.48" stroke="#555" stroke-width="0.4"/>
<text x="167.6" y="418.69" font-size="2.9" font-weight="bold" text-anchor="end" fill="#3e4654" textLength="6.9" lengthAdjust="spacingAndGlyphs">0.214</text>
<line x1="167.7" y1="417.59" x2="168.5" y2="417.59" stroke="#555" stroke-width="0.4"/>
<text x="167.6" y="424.8" font-size="2.9" font-weight="bold" text-anchor="end" fill="#3e4654" textLength="6.9" lengthAdjust="spacingAndGlyphs">0.027</text>
<line x1="167.7" y1="423.7" x2="168.5" y2="423.7" stroke="#555" stroke-width="0.4"/>
<text transform="translate(158.3,387.1) rotate(-90)" font-size="2.8" font-weight="bold" text-anchor="middle" fill="#1a1a2a" textLength="34" lengthAdjust="spacingAndGlyphs">Fluorescence (x10 000)</text>
<line x1="192.7" y1="430.9" x2="192.7" y2="431.8" stroke="#555" stroke-width="0.4"/>
<text x="192.7" y="434.9" font-size="3.1" text-anchor="middle" fill="#2a2a3a">10</text>
<line x1="217.5" y1="430.9" x2="217.5" y2="431.8" stroke="#555" stroke-width="0.4"/>
<text x="217.5" y="434.9" font-size="3.1" text-anchor="middle" fill="#2a2a3a">20</text>
<line x1="242.3" y1="430.9" x2="242.3" y2="431.8" stroke="#555" stroke-width="0.4"/>
<text x="242.3" y="434.9" font-size="3.1" text-anchor="middle" fill="#2a2a3a">30</text>
<line x1="267.1" y1="430.9" x2="267.1" y2="431.8" stroke="#555" stroke-width="0.4"/>
<text x="267.1" y="434.9" font-size="3.1" text-anchor="middle" fill="#2a2a3a">40</text>
<text x="225.2" y="438.4" font-size="3.4" font-weight="bold" text-anchor="middle" fill="#1a1a2a" stroke="#1a1a2a" stroke-width="0.12" textLength="10.5" lengthAdjust="spacingAndGlyphs">Cycles</text>
<path d="M170.1,415.5 C171.35,415.77 175.37,416.43 177.6,417.1 C179.83,417.77 181.92,418.83 183.5,419.5 C185.08,420.17 185.72,421.22 187.1,421.1 C188.48,420.98 189.83,418.95 191.8,418.8 C193.77,418.65 196.53,419.82 198.9,420.2 C201.27,420.58 203.25,420.83 206,421.1 C208.75,421.37 212.25,421.48 215.4,421.8 C218.55,422.12 222.53,422.92 224.9,423 C227.27,423.08 228.23,422.62 229.6,422.3 C230.97,421.98 231.53,421.3 233.1,421.1 C234.67,420.9 237.42,421.25 239,421.1 C240.58,420.95 241.02,420.35 242.6,420.2 C244.18,420.05 246.93,420.52 248.5,420.2 C250.07,419.88 250.82,419.4 252,418.3 C253.18,417.2 254.42,415.97 255.6,413.6 C256.78,411.23 257.93,408.43 259.1,404.1 C260.27,399.77 261.42,392.72 262.6,387.6 C263.78,382.48 264.82,377.73 266.2,373.4 C267.58,369.07 269.33,364.55 270.9,361.6 C272.47,358.65 274.3,357.27 275.6,355.7 C276.9,354.13 278.18,352.78 278.7,352.2" fill="none" stroke="#e8b6c2" stroke-width="1.0" stroke-linejoin="round" stroke-linecap="round"/>
<rect x="285" y="338.6" width="124" height="101.9" fill="#c3d4e7"/>
<rect x="285" y="338.6" width="124" height="2.0" fill="#cedae8"/>
<text x="334.4" y="341.5" font-size="2.4" font-weight="bold" fill="#454a58" textLength="23.5" lengthAdjust="spacingAndGlyphs">Amplification Curves</text>
<rect x="392.4" y="338.8" width="7.6" height="4" rx="1.2" fill="url(#gsel)"/>
<rect x="400.5" y="338.5" width="7" height="4.5" fill="#f4f5f7" stroke="#9aa2ac" stroke-width="0.3"/>
<line x1="402" y1="340.8" x2="406.2" y2="340.8" stroke="#666" stroke-width="0.6"/>
<rect x="292.7" y="343.6" width="115.2" height="90.6" fill="#fff"/>
<line x1="292.7" y1="343.6" x2="407.9" y2="343.6" stroke="#999" stroke-width="0.5"/>
<line x1="407.9" y1="343.6" x2="407.9" y2="434.2" stroke="#8a8a8a" stroke-width="0.8"/>
<line x1="292.7" y1="343.6" x2="292.7" y2="434.2" stroke="#7c7f86" stroke-width="0.75"/>
<line x1="292.7" y1="434.2" x2="407.9" y2="434.2" stroke="#7c7f86" stroke-width="0.75"/>
<text x="292.1" y="349.3" font-size="2.1" font-weight="bold" text-anchor="end" fill="#2a3040" textLength="4.2" lengthAdjust="spacingAndGlyphs">1.275</text>
<text x="292.1" y="354.32" font-size="2.1" font-weight="bold" text-anchor="end" fill="#2a3040" textLength="4.2" lengthAdjust="spacingAndGlyphs">1.275</text>
<text x="292.1" y="359.34" font-size="2.1" font-weight="bold" text-anchor="end" fill="#2a3040" textLength="4.2" lengthAdjust="spacingAndGlyphs">1.275</text>
<text x="292.1" y="364.36" font-size="2.1" font-weight="bold" text-anchor="end" fill="#2a3040" textLength="4.2" lengthAdjust="spacingAndGlyphs">1.275</text>
<text x="292.1" y="369.38" font-size="2.1" font-weight="bold" text-anchor="end" fill="#2a3040" textLength="4.2" lengthAdjust="spacingAndGlyphs">1.275</text>
<text x="292.1" y="374.39" font-size="2.1" font-weight="bold" text-anchor="end" fill="#2a3040" textLength="4.2" lengthAdjust="spacingAndGlyphs">1.275</text>
<text x="292.1" y="379.41" font-size="2.1" font-weight="bold" text-anchor="end" fill="#2a3040" textLength="4.2" lengthAdjust="spacingAndGlyphs">1.275</text>
<text x="292.1" y="384.43" font-size="2.1" font-weight="bold" text-anchor="end" fill="#2a3040" textLength="4.2" lengthAdjust="spacingAndGlyphs">1.275</text>
<text x="292.1" y="389.45" font-size="2.1" font-weight="bold" text-anchor="end" fill="#2a3040" textLength="4.2" lengthAdjust="spacingAndGlyphs">1.275</text>
<text x="292.1" y="394.47" font-size="2.1" font-weight="bold" text-anchor="end" fill="#2a3040" textLength="4.2" lengthAdjust="spacingAndGlyphs">1.275</text>
<text x="292.1" y="399.49" font-size="2.1" font-weight="bold" text-anchor="end" fill="#2a3040" textLength="4.2" lengthAdjust="spacingAndGlyphs">1.275</text>
<text x="292.1" y="404.51" font-size="2.1" font-weight="bold" text-anchor="end" fill="#2a3040" textLength="4.2" lengthAdjust="spacingAndGlyphs">1.275</text>
<text x="292.1" y="409.52" font-size="2.1" font-weight="bold" text-anchor="end" fill="#2a3040" textLength="4.2" lengthAdjust="spacingAndGlyphs">1.275</text>
<text x="292.1" y="414.54" font-size="2.1" font-weight="bold" text-anchor="end" fill="#2a3040" textLength="4.2" lengthAdjust="spacingAndGlyphs">1.275</text>
<text x="292.1" y="419.56" font-size="2.1" font-weight="bold" text-anchor="end" fill="#2a3040" textLength="4.2" lengthAdjust="spacingAndGlyphs">1.275</text>
<text x="292.1" y="424.58" font-size="2.1" font-weight="bold" text-anchor="end" fill="#2a3040" textLength="4.2" lengthAdjust="spacingAndGlyphs">1.275</text>
<text x="292.1" y="429.6" font-size="2.1" font-weight="bold" text-anchor="end" fill="#2a3040" textLength="4.2" lengthAdjust="spacingAndGlyphs">1.275</text>
<text transform="translate(286.7,388) rotate(-90)" font-size="2.3" font-weight="bold" text-anchor="middle" fill="#2a3040" stroke="#2a3040" stroke-width="0.15" textLength="21.5" lengthAdjust="spacingAndGlyphs">Fluorescence (x10 000)</text>
<text x="303.8" y="436.1" font-size="2.1" font-weight="bold" text-anchor="middle" fill="#333">5</text>
<text x="316.65" y="436.1" font-size="2.1" font-weight="bold" text-anchor="middle" fill="#333">10</text>
<text x="329.5" y="436.1" font-size="2.1" font-weight="bold" text-anchor="middle" fill="#333">15</text>
<text x="342.35" y="436.1" font-size="2.1" font-weight="bold" text-anchor="middle" fill="#333">20</text>
<text x="355.2" y="436.1" font-size="2.1" font-weight="bold" text-anchor="middle" fill="#333">25</text>
<text x="368.05" y="436.1" font-size="2.1" font-weight="bold" text-anchor="middle" fill="#333">30</text>
<text x="380.9" y="436.1" font-size="2.1" font-weight="bold" text-anchor="middle" fill="#333">35</text>
<text x="393.75" y="436.1" font-size="2.1" font-weight="bold" text-anchor="middle" fill="#333">40</text>
<text x="406.6" y="436.1" font-size="2.1" font-weight="bold" text-anchor="middle" fill="#333">45</text>
<text x="350.3" y="438.6" font-size="2" font-weight="bold" text-anchor="middle" fill="#333" textLength="5" lengthAdjust="spacingAndGlyphs">Cycles</text>
<path d="M293.3,420.5 C294.08,421.28 296.45,423.83 298,425.2 C299.55,426.57 301.25,427.73 302.6,428.7 C303.95,429.67 304.93,430.93 306.1,431 C307.27,431.07 308.43,429.95 309.6,429.1 C310.77,428.25 311.55,426.67 313.1,425.9 C314.65,425.13 316,424.9 318.9,424.5 C321.8,424.1 326.25,423.97 330.5,423.5 C334.75,423.03 339.75,422.2 344.4,421.7 C349.05,421.2 354.13,420.88 358.4,420.5 C362.67,420.12 366.13,419.9 370,419.4 C373.87,418.9 377.72,417.97 381.6,417.5 C385.48,417.03 389.42,416.98 393.3,416.6 C397.18,416.22 402.97,415.43 404.9,415.2" fill="none" stroke="#d0f2d4" stroke-width="1.15" stroke-linejoin="round" stroke-linecap="round"/>
<rect x="415" y="338.6" width="123" height="101.9" fill="#c3d4e7"/>
<rect x="415" y="338.6" width="123" height="2.0" fill="#cedae8"/>
<text x="464.4" y="341.5" font-size="2.4" font-weight="bold" fill="#454a58" textLength="23.5" lengthAdjust="spacingAndGlyphs">Amplification Curves</text>
<rect x="521.4" y="338.8" width="7.6" height="4" rx="1.2" fill="url(#gsel)"/>
<rect x="529.5" y="338.5" width="7" height="4.5" fill="#f4f5f7" stroke="#9aa2ac" stroke-width="0.3"/>
<line x1="531" y1="340.8" x2="535.2" y2="340.8" stroke="#666" stroke-width="0.6"/>
<rect x="422.7" y="343.6" width="114.2" height="90.6" fill="#fff"/>
<line x1="422.7" y1="343.6" x2="536.9" y2="343.6" stroke="#999" stroke-width="0.5"/>
<line x1="536.9" y1="343.6" x2="536.9" y2="434.2" stroke="#8a8a8a" stroke-width="0.8"/>
<line x1="422.7" y1="343.6" x2="422.7" y2="434.2" stroke="#7c7f86" stroke-width="0.75"/>
<line x1="422.7" y1="434.2" x2="536.9" y2="434.2" stroke="#7c7f86" stroke-width="0.75"/>
<text x="422.1" y="349.3" font-size="2.1" font-weight="bold" text-anchor="end" fill="#2a3040" textLength="4.2" lengthAdjust="spacingAndGlyphs">1.275</text>
<text x="422.1" y="354.32" font-size="2.1" font-weight="bold" text-anchor="end" fill="#2a3040" textLength="4.2" lengthAdjust="spacingAndGlyphs">1.275</text>
<text x="422.1" y="359.34" font-size="2.1" font-weight="bold" text-anchor="end" fill="#2a3040" textLength="4.2" lengthAdjust="spacingAndGlyphs">1.275</text>
<text x="422.1" y="364.36" font-size="2.1" font-weight="bold" text-anchor="end" fill="#2a3040" textLength="4.2" lengthAdjust="spacingAndGlyphs">1.275</text>
<text x="422.1" y="369.38" font-size="2.1" font-weight="bold" text-anchor="end" fill="#2a3040" textLength="4.2" lengthAdjust="spacingAndGlyphs">1.275</text>
<text x="422.1" y="374.39" font-size="2.1" font-weight="bold" text-anchor="end" fill="#2a3040" textLength="4.2" lengthAdjust="spacingAndGlyphs">1.275</text>
<text x="422.1" y="379.41" font-size="2.1" font-weight="bold" text-anchor="end" fill="#2a3040" textLength="4.2" lengthAdjust="spacingAndGlyphs">1.275</text>
<text x="422.1" y="384.43" font-size="2.1" font-weight="bold" text-anchor="end" fill="#2a3040" textLength="4.2" lengthAdjust="spacingAndGlyphs">1.275</text>
<text x="422.1" y="389.45" font-size="2.1" font-weight="bold" text-anchor="end" fill="#2a3040" textLength="4.2" lengthAdjust="spacingAndGlyphs">1.275</text>
<text x="422.1" y="394.47" font-size="2.1" font-weight="bold" text-anchor="end" fill="#2a3040" textLength="4.2" lengthAdjust="spacingAndGlyphs">1.275</text>
<text x="422.1" y="399.49" font-size="2.1" font-weight="bold" text-anchor="end" fill="#2a3040" textLength="4.2" lengthAdjust="spacingAndGlyphs">1.275</text>
<text x="422.1" y="404.51" font-size="2.1" font-weight="bold" text-anchor="end" fill="#2a3040" textLength="4.2" lengthAdjust="spacingAndGlyphs">1.275</text>
<text x="422.1" y="409.52" font-size="2.1" font-weight="bold" text-anchor="end" fill="#2a3040" textLength="4.2" lengthAdjust="spacingAndGlyphs">1.275</text>
<text x="422.1" y="414.54" font-size="2.1" font-weight="bold" text-anchor="end" fill="#2a3040" textLength="4.2" lengthAdjust="spacingAndGlyphs">1.275</text>
<text x="422.1" y="419.56" font-size="2.1" font-weight="bold" text-anchor="end" fill="#2a3040" textLength="4.2" lengthAdjust="spacingAndGlyphs">1.275</text>
<text x="422.1" y="424.58" font-size="2.1" font-weight="bold" text-anchor="end" fill="#2a3040" textLength="4.2" lengthAdjust="spacingAndGlyphs">1.275</text>
<text x="422.1" y="429.6" font-size="2.1" font-weight="bold" text-anchor="end" fill="#2a3040" textLength="4.2" lengthAdjust="spacingAndGlyphs">1.275</text>
<text transform="translate(416.7,388) rotate(-90)" font-size="2.3" font-weight="bold" text-anchor="middle" fill="#2a3040" stroke="#2a3040" stroke-width="0.15" textLength="21.5" lengthAdjust="spacingAndGlyphs">Fluorescence (x10 000)</text>
<text x="433.8" y="436.1" font-size="2.1" font-weight="bold" text-anchor="middle" fill="#333">5</text>
<text x="446.65" y="436.1" font-size="2.1" font-weight="bold" text-anchor="middle" fill="#333">10</text>
<text x="459.5" y="436.1" font-size="2.1" font-weight="bold" text-anchor="middle" fill="#333">15</text>
<text x="472.35" y="436.1" font-size="2.1" font-weight="bold" text-anchor="middle" fill="#333">20</text>
<text x="485.2" y="436.1" font-size="2.1" font-weight="bold" text-anchor="middle" fill="#333">25</text>
<text x="498.05" y="436.1" font-size="2.1" font-weight="bold" text-anchor="middle" fill="#333">30</text>
<text x="510.9" y="436.1" font-size="2.1" font-weight="bold" text-anchor="middle" fill="#333">35</text>
<text x="523.75" y="436.1" font-size="2.1" font-weight="bold" text-anchor="middle" fill="#333">40</text>
<text x="536.6" y="436.1" font-size="2.1" font-weight="bold" text-anchor="middle" fill="#333">45</text>
<text x="480.3" y="438.6" font-size="2" font-weight="bold" text-anchor="middle" fill="#333" textLength="5" lengthAdjust="spacingAndGlyphs">Cycles</text>
<path d="M423.8,422.1 C424.5,422.8 426.53,425.02 428,426.3 C429.47,427.58 431.25,429.02 432.6,429.8 C433.95,430.58 435.02,431.38 436.1,431 C437.18,430.62 438.13,428.35 439.1,427.5 C440.07,426.65 439.5,426.1 441.9,425.9 C444.3,425.7 449.63,426.15 453.5,426.3 C457.37,426.45 461.22,426.87 465.1,426.8 C468.98,426.73 472.92,426.17 476.8,425.9 C480.68,425.63 484.92,425.43 488.4,425.2 C491.88,424.97 495.18,424.9 497.7,424.5 C500.22,424.1 501.18,423.35 503.5,422.8 C505.82,422.25 508.7,421.85 511.6,421.2 C514.5,420.55 517.02,419.78 520.9,418.9 C524.78,418.02 532.57,416.4 534.9,415.9" fill="none" stroke="#d0f2d4" stroke-width="1.15" stroke-linejoin="round" stroke-linecap="round"/>
<rect x="25" y="443.2" width="126" height="100.5" fill="#c3d4e7"/>
<rect x="25" y="443.2" width="126" height="2.6" fill="#cedae8"/>
<text x="69" y="447.3" font-size="4.1" font-weight="bold" fill="#10101a" stroke="#10101a" stroke-width="0.18" textLength="38" lengthAdjust="spacingAndGlyphs">Amplification Curves</text>
<rect x="125.2" y="443.1" width="11.8" height="5.2" fill="url(#gsel)" stroke="#35628f" stroke-width="0.4"/>
<text x="131.1" y="446.7" font-size="3.3" font-weight="bold" text-anchor="middle" fill="#1d3a5c" textLength="8" lengthAdjust="spacingAndGlyphs">Select</text>
<rect x="138.7" y="443.1" width="10" height="5.1" fill="#f7f8fa" stroke="#8c96a0" stroke-width="0.4"/>
<text x="144.1" y="446.6" font-size="3.2" text-anchor="middle" fill="#484848" textLength="7.2" lengthAdjust="spacingAndGlyphs">Zoom</text>
<rect x="39" y="449.7" width="111" height="85.2" fill="#fff"/>
<line x1="39" y1="449.7" x2="150" y2="449.7" stroke="#999" stroke-width="0.5"/>
<line x1="150" y1="443.2" x2="150" y2="534.9" stroke="#8a8a8a" stroke-width="0.8"/>
<line x1="39" y1="449.7" x2="39" y2="534.9" stroke="#666" stroke-width="0.75"/>
<line x1="39" y1="534.9" x2="150" y2="534.9" stroke="#666" stroke-width="0.75"/>
<text x="38.1" y="456" font-size="2.9" font-weight="bold" text-anchor="end" fill="#3e4654" textLength="8.2" lengthAdjust="spacingAndGlyphs">10.000</text>
<line x1="38.2" y1="454.9" x2="39" y2="454.9" stroke="#555" stroke-width="0.4"/>
<text x="38.1" y="460.22" font-size="2.9" font-weight="bold" text-anchor="end" fill="#3e4654" textLength="6.9" lengthAdjust="spacingAndGlyphs">9.453</text>
<line x1="38.2" y1="459.12" x2="39" y2="459.12" stroke="#555" stroke-width="0.4"/>
<text x="38.1" y="464.44" font-size="2.9" font-weight="bold" text-anchor="end" fill="#3e4654" textLength="6.9" lengthAdjust="spacingAndGlyphs">8.906</text>
<line x1="38.2" y1="463.34" x2="39" y2="463.34" stroke="#555" stroke-width="0.4"/>
<text x="38.1" y="468.65" font-size="2.9" font-weight="bold" text-anchor="end" fill="#3e4654" textLength="6.9" lengthAdjust="spacingAndGlyphs">8.359</text>
<line x1="38.2" y1="467.55" x2="39" y2="467.55" stroke="#555" stroke-width="0.4"/>
<text x="38.1" y="472.87" font-size="2.9" font-weight="bold" text-anchor="end" fill="#3e4654" textLength="6.9" lengthAdjust="spacingAndGlyphs">7.812</text>
<line x1="38.2" y1="471.77" x2="39" y2="471.77" stroke="#555" stroke-width="0.4"/>
<text x="38.1" y="477.09" font-size="2.9" font-weight="bold" text-anchor="end" fill="#3e4654" textLength="6.9" lengthAdjust="spacingAndGlyphs">7.265</text>
<line x1="38.2" y1="475.99" x2="39" y2="475.99" stroke="#555" stroke-width="0.4"/>
<text x="38.1" y="481.31" font-size="2.9" font-weight="bold" text-anchor="end" fill="#3e4654" textLength="6.9" lengthAdjust="spacingAndGlyphs">6.718</text>
<line x1="38.2" y1="480.21" x2="39" y2="480.21" stroke="#555" stroke-width="0.4"/>
<text x="38.1" y="485.52" font-size="2.9" font-weight="bold" text-anchor="end" fill="#3e4654" textLength="6.9" lengthAdjust="spacingAndGlyphs">6.171</text>
<line x1="38.2" y1="484.42" x2="39" y2="484.42" stroke="#555" stroke-width="0.4"/>
<text x="38.1" y="489.74" font-size="2.9" font-weight="bold" text-anchor="end" fill="#3e4654" textLength="6.9" lengthAdjust="spacingAndGlyphs">5.624</text>
<line x1="38.2" y1="488.64" x2="39" y2="488.64" stroke="#555" stroke-width="0.4"/>
<text x="38.1" y="493.96" font-size="2.9" font-weight="bold" text-anchor="end" fill="#3e4654" textLength="6.9" lengthAdjust="spacingAndGlyphs">5.076</text>
<line x1="38.2" y1="492.86" x2="39" y2="492.86" stroke="#555" stroke-width="0.4"/>
<text x="38.1" y="498.18" font-size="2.9" font-weight="bold" text-anchor="end" fill="#3e4654" textLength="6.9" lengthAdjust="spacingAndGlyphs">4.529</text>
<line x1="38.2" y1="497.08" x2="39" y2="497.08" stroke="#555" stroke-width="0.4"/>
<text x="38.1" y="502.39" font-size="2.9" font-weight="bold" text-anchor="end" fill="#3e4654" textLength="6.9" lengthAdjust="spacingAndGlyphs">3.982</text>
<line x1="38.2" y1="501.29" x2="39" y2="501.29" stroke="#555" stroke-width="0.4"/>
<text x="38.1" y="506.61" font-size="2.9" font-weight="bold" text-anchor="end" fill="#3e4654" textLength="6.9" lengthAdjust="spacingAndGlyphs">3.435</text>
<line x1="38.2" y1="505.51" x2="39" y2="505.51" stroke="#555" stroke-width="0.4"/>
<text x="38.1" y="510.83" font-size="2.9" font-weight="bold" text-anchor="end" fill="#3e4654" textLength="6.9" lengthAdjust="spacingAndGlyphs">2.888</text>
<line x1="38.2" y1="509.73" x2="39" y2="509.73" stroke="#555" stroke-width="0.4"/>
<text x="38.1" y="515.05" font-size="2.9" font-weight="bold" text-anchor="end" fill="#3e4654" textLength="6.9" lengthAdjust="spacingAndGlyphs">2.341</text>
<line x1="38.2" y1="513.95" x2="39" y2="513.95" stroke="#555" stroke-width="0.4"/>
<text x="38.1" y="519.26" font-size="2.9" font-weight="bold" text-anchor="end" fill="#3e4654" textLength="6.9" lengthAdjust="spacingAndGlyphs">1.794</text>
<line x1="38.2" y1="518.16" x2="39" y2="518.16" stroke="#555" stroke-width="0.4"/>
<text x="38.1" y="523.48" font-size="2.9" font-weight="bold" text-anchor="end" fill="#3e4654" textLength="6.9" lengthAdjust="spacingAndGlyphs">1.247</text>
<line x1="38.2" y1="522.38" x2="39" y2="522.38" stroke="#555" stroke-width="0.4"/>
<text x="38.1" y="527.7" font-size="2.9" font-weight="bold" text-anchor="end" fill="#3e4654" textLength="6.9" lengthAdjust="spacingAndGlyphs">0.700</text>
<line x1="38.2" y1="526.6" x2="39" y2="526.6" stroke="#555" stroke-width="0.4"/>
<text transform="translate(28.3,492.3) rotate(-90)" font-size="2.8" font-weight="bold" text-anchor="middle" fill="#1a1a2a" textLength="34" lengthAdjust="spacingAndGlyphs">Fluorescence (x10 000)</text>
<line x1="62.4" y1="534.9" x2="62.4" y2="535.8" stroke="#555" stroke-width="0.4"/>
<text x="62.4" y="538.9" font-size="3.1" text-anchor="middle" fill="#2a2a3a">10</text>
<line x1="87.3" y1="534.9" x2="87.3" y2="535.8" stroke="#555" stroke-width="0.4"/>
<text x="87.3" y="538.9" font-size="3.1" text-anchor="middle" fill="#2a2a3a">20</text>
<line x1="112.2" y1="534.9" x2="112.2" y2="535.8" stroke="#555" stroke-width="0.4"/>
<text x="112.2" y="538.9" font-size="3.1" text-anchor="middle" fill="#2a2a3a">30</text>
<line x1="137.1" y1="534.9" x2="137.1" y2="535.8" stroke="#555" stroke-width="0.4"/>
<text x="137.1" y="538.9" font-size="3.1" text-anchor="middle" fill="#2a2a3a">40</text>
<text x="95.2" y="542.4" font-size="3.4" font-weight="bold" text-anchor="middle" fill="#1a1a2a" stroke="#1a1a2a" stroke-width="0.12" textLength="10.5" lengthAdjust="spacingAndGlyphs">Cycles</text>
<path d="M40.5,528.2 C45.62,528.2 60.97,528.23 71.2,528.2 C81.43,528.17 95.6,528.27 101.9,528 C108.2,527.73 107.13,527.35 109,526.6 C110.87,525.85 111.83,525 113.1,523.5 C114.37,522 115.43,520.17 116.6,517.6 C117.77,515.03 118.92,511.85 120.1,508.1 C121.28,504.35 122.52,499.62 123.7,495.1 C124.88,490.58 126.02,485.13 127.2,481 C128.38,476.87 129.6,473.07 130.8,470.3 C132,467.53 132.92,466.17 134.4,464.4 C135.88,462.63 138.02,460.87 139.7,459.7 C141.38,458.53 143,457.98 144.5,457.4 C146,456.82 148,456.4 148.7,456.2" fill="none" stroke="#e8b6c2" stroke-width="1.0" stroke-linejoin="round" stroke-linecap="round"/>
<rect x="155" y="443.2" width="125.5" height="100.5" fill="#c3d4e7"/>
<rect x="155" y="443.2" width="125.5" height="2.6" fill="#cedae8"/>
<text x="199" y="447.3" font-size="4.1" font-weight="bold" fill="#10101a" stroke="#10101a" stroke-width="0.18" textLength="38" lengthAdjust="spacingAndGlyphs">Amplification Curves</text>
<rect x="254.7" y="443.1" width="11.8" height="5.2" fill="url(#gsel)" stroke="#35628f" stroke-width="0.4"/>
<text x="260.6" y="446.7" font-size="3.3" font-weight="bold" text-anchor="middle" fill="#1d3a5c" textLength="8" lengthAdjust="spacingAndGlyphs">Select</text>
<rect x="268.2" y="443.1" width="10" height="5.1" fill="#f7f8fa" stroke="#8c96a0" stroke-width="0.4"/>
<text x="273.6" y="446.6" font-size="3.2" text-anchor="middle" fill="#484848" textLength="7.2" lengthAdjust="spacingAndGlyphs">Zoom</text>
<rect x="168.5" y="449.7" width="111" height="85.2" fill="#fff"/>
<line x1="168.5" y1="449.7" x2="279.5" y2="449.7" stroke="#999" stroke-width="0.5"/>
<line x1="279.5" y1="443.2" x2="279.5" y2="534.9" stroke="#8a8a8a" stroke-width="0.8"/>
<line x1="168.5" y1="449.7" x2="168.5" y2="534.9" stroke="#666" stroke-width="0.75"/>
<line x1="168.5" y1="534.9" x2="279.5" y2="534.9" stroke="#666" stroke-width="0.75"/>
<text x="167.6" y="456" font-size="2.9" font-weight="bold" text-anchor="end" fill="#3e4654" textLength="8.2" lengthAdjust="spacingAndGlyphs">10.000</text>
<line x1="167.7" y1="454.9" x2="168.5" y2="454.9" stroke="#555" stroke-width="0.4"/>
<text x="167.6" y="463.07" font-size="2.9" font-weight="bold" text-anchor="end" fill="#3e4654" textLength="6.9" lengthAdjust="spacingAndGlyphs">9.000</text>
<line x1="167.7" y1="461.97" x2="168.5" y2="461.97" stroke="#555" stroke-width="0.4"/>
<text x="167.6" y="470.14" font-size="2.9" font-weight="bold" text-anchor="end" fill="#3e4654" textLength="6.9" lengthAdjust="spacingAndGlyphs">8.000</text>
<line x1="167.7" y1="469.04" x2="168.5" y2="469.04" stroke="#555" stroke-width="0.4"/>
<text x="167.6" y="477.21" font-size="2.9" font-weight="bold" text-anchor="end" fill="#3e4654" textLength="6.9" lengthAdjust="spacingAndGlyphs">7.000</text>
<line x1="167.7" y1="476.11" x2="168.5" y2="476.11" stroke="#555" stroke-width="0.4"/>
<text x="167.6" y="484.28" font-size="2.9" font-weight="bold" text-anchor="end" fill="#3e4654" textLength="6.9" lengthAdjust="spacingAndGlyphs">6.000</text>
<line x1="167.7" y1="483.18" x2="168.5" y2="483.18" stroke="#555" stroke-width="0.4"/>
<text x="167.6" y="491.35" font-size="2.9" font-weight="bold" text-anchor="end" fill="#3e4654" textLength="6.9" lengthAdjust="spacingAndGlyphs">5.000</text>
<line x1="167.7" y1="490.25" x2="168.5" y2="490.25" stroke="#555" stroke-width="0.4"/>
<text x="167.6" y="498.42" font-size="2.9" font-weight="bold" text-anchor="end" fill="#3e4654" textLength="6.9" lengthAdjust="spacingAndGlyphs">4.000</text>
<line x1="167.7" y1="497.32" x2="168.5" y2="497.32" stroke="#555" stroke-width="0.4"/>
<text x="167.6" y="505.49" font-size="2.9" font-weight="bold" text-anchor="end" fill="#3e4654" textLength="6.9" lengthAdjust="spacingAndGlyphs">3.000</text>
<line x1="167.7" y1="504.39" x2="168.5" y2="504.39" stroke="#555" stroke-width="0.4"/>
<text x="167.6" y="512.56" font-size="2.9" font-weight="bold" text-anchor="end" fill="#3e4654" textLength="6.9" lengthAdjust="spacingAndGlyphs">2.000</text>
<line x1="167.7" y1="511.46" x2="168.5" y2="511.46" stroke="#555" stroke-width="0.4"/>
<text x="167.6" y="519.63" font-size="2.9" font-weight="bold" text-anchor="end" fill="#3e4654" textLength="6.9" lengthAdjust="spacingAndGlyphs">1.000</text>
<line x1="167.7" y1="518.53" x2="168.5" y2="518.53" stroke="#555" stroke-width="0.4"/>
<text x="167.6" y="526.7" font-size="2.9" font-weight="bold" text-anchor="end" fill="#3e4654" textLength="6.9" lengthAdjust="spacingAndGlyphs">0.000</text>
<line x1="167.7" y1="525.6" x2="168.5" y2="525.6" stroke="#555" stroke-width="0.4"/>
<text transform="translate(158.3,492.3) rotate(-90)" font-size="2.8" font-weight="bold" text-anchor="middle" fill="#1a1a2a" textLength="34" lengthAdjust="spacingAndGlyphs">Fluorescence (x10 000)</text>
<line x1="192.7" y1="534.9" x2="192.7" y2="535.8" stroke="#555" stroke-width="0.4"/>
<text x="192.7" y="538.9" font-size="3.1" text-anchor="middle" fill="#2a2a3a">10</text>
<line x1="217.5" y1="534.9" x2="217.5" y2="535.8" stroke="#555" stroke-width="0.4"/>
<text x="217.5" y="538.9" font-size="3.1" text-anchor="middle" fill="#2a2a3a">20</text>
<line x1="242.3" y1="534.9" x2="242.3" y2="535.8" stroke="#555" stroke-width="0.4"/>
<text x="242.3" y="538.9" font-size="3.1" text-anchor="middle" fill="#2a2a3a">30</text>
<line x1="267.1" y1="534.9" x2="267.1" y2="535.8" stroke="#555" stroke-width="0.4"/>
<text x="267.1" y="538.9" font-size="3.1" text-anchor="middle" fill="#2a2a3a">40</text>
<text x="225.2" y="542.4" font-size="3.4" font-weight="bold" text-anchor="middle" fill="#1a1a2a" stroke="#1a1a2a" stroke-width="0.12" textLength="10.5" lengthAdjust="spacingAndGlyphs">Cycles</text>
<path d="M170.5,527.5 C173.65,527.5 182.32,527.42 189.4,527.5 C196.48,527.58 205.92,527.88 213,528 C220.08,528.12 226.38,528.25 231.9,528.2 C237.42,528.15 242.82,528.03 246.1,527.7 C249.38,527.37 249.85,527.18 251.6,526.2 C253.35,525.22 255,524.33 256.6,521.8 C258.2,519.27 259.67,515.25 261.2,511 C262.73,506.75 264.27,501.3 265.8,496.3 C267.33,491.3 268.87,485.92 270.4,481 C271.93,476.08 273.62,470.93 275,466.8 C276.38,462.67 278.08,457.97 278.7,456.2" fill="none" stroke="#e8b6c2" stroke-width="1.0" stroke-linejoin="round" stroke-linecap="round"/>
<rect x="285" y="443.2" width="124" height="101.3" fill="#c3d4e7"/>
<rect x="285" y="443.2" width="124" height="2.0" fill="#cedae8"/>
<text x="334.4" y="446.1" font-size="2.4" font-weight="bold" fill="#454a58" textLength="23.5" lengthAdjust="spacingAndGlyphs">Amplification Curves</text>
<rect x="392.4" y="443.4" width="7.6" height="4" rx="1.2" fill="url(#gsel)"/>
<rect x="400.5" y="443.1" width="7" height="4.5" fill="#f4f5f7" stroke="#9aa2ac" stroke-width="0.3"/>
<line x1="402" y1="445.4" x2="406.2" y2="445.4" stroke="#666" stroke-width="0.6"/>
<rect x="292.7" y="448.2" width="115.2" height="90" fill="#fff"/>
<line x1="292.7" y1="448.2" x2="407.9" y2="448.2" stroke="#999" stroke-width="0.5"/>
<line x1="407.9" y1="448.2" x2="407.9" y2="538.2" stroke="#8a8a8a" stroke-width="0.8"/>
<line x1="292.7" y1="448.2" x2="292.7" y2="538.2" stroke="#7c7f86" stroke-width="0.75"/>
<line x1="292.7" y1="538.2" x2="407.9" y2="538.2" stroke="#7c7f86" stroke-width="0.75"/>
<text x="292.1" y="453.9" font-size="2.1" font-weight="bold" text-anchor="end" fill="#2a3040" textLength="4.2" lengthAdjust="spacingAndGlyphs">1.275</text>
<text x="292.1" y="458.88" font-size="2.1" font-weight="bold" text-anchor="end" fill="#2a3040" textLength="4.2" lengthAdjust="spacingAndGlyphs">1.275</text>
<text x="292.1" y="463.86" font-size="2.1" font-weight="bold" text-anchor="end" fill="#2a3040" textLength="4.2" lengthAdjust="spacingAndGlyphs">1.275</text>
<text x="292.1" y="468.84" font-size="2.1" font-weight="bold" text-anchor="end" fill="#2a3040" textLength="4.2" lengthAdjust="spacingAndGlyphs">1.275</text>
<text x="292.1" y="473.82" font-size="2.1" font-weight="bold" text-anchor="end" fill="#2a3040" textLength="4.2" lengthAdjust="spacingAndGlyphs">1.275</text>
<text x="292.1" y="478.81" font-size="2.1" font-weight="bold" text-anchor="end" fill="#2a3040" textLength="4.2" lengthAdjust="spacingAndGlyphs">1.275</text>
<text x="292.1" y="483.79" font-size="2.1" font-weight="bold" text-anchor="end" fill="#2a3040" textLength="4.2" lengthAdjust="spacingAndGlyphs">1.275</text>
<text x="292.1" y="488.77" font-size="2.1" font-weight="bold" text-anchor="end" fill="#2a3040" textLength="4.2" lengthAdjust="spacingAndGlyphs">1.275</text>
<text x="292.1" y="493.75" font-size="2.1" font-weight="bold" text-anchor="end" fill="#2a3040" textLength="4.2" lengthAdjust="spacingAndGlyphs">1.275</text>
<text x="292.1" y="498.73" font-size="2.1" font-weight="bold" text-anchor="end" fill="#2a3040" textLength="4.2" lengthAdjust="spacingAndGlyphs">1.275</text>
<text x="292.1" y="503.71" font-size="2.1" font-weight="bold" text-anchor="end" fill="#2a3040" textLength="4.2" lengthAdjust="spacingAndGlyphs">1.275</text>
<text x="292.1" y="508.69" font-size="2.1" font-weight="bold" text-anchor="end" fill="#2a3040" textLength="4.2" lengthAdjust="spacingAndGlyphs">1.275</text>
<text x="292.1" y="513.68" font-size="2.1" font-weight="bold" text-anchor="end" fill="#2a3040" textLength="4.2" lengthAdjust="spacingAndGlyphs">1.275</text>
<text x="292.1" y="518.66" font-size="2.1" font-weight="bold" text-anchor="end" fill="#2a3040" textLength="4.2" lengthAdjust="spacingAndGlyphs">1.275</text>
<text x="292.1" y="523.64" font-size="2.1" font-weight="bold" text-anchor="end" fill="#2a3040" textLength="4.2" lengthAdjust="spacingAndGlyphs">1.275</text>
<text x="292.1" y="528.62" font-size="2.1" font-weight="bold" text-anchor="end" fill="#2a3040" textLength="4.2" lengthAdjust="spacingAndGlyphs">1.275</text>
<text x="292.1" y="533.6" font-size="2.1" font-weight="bold" text-anchor="end" fill="#2a3040" textLength="4.2" lengthAdjust="spacingAndGlyphs">1.275</text>
<text transform="translate(286.7,493.2) rotate(-90)" font-size="2.3" font-weight="bold" text-anchor="middle" fill="#2a3040" stroke="#2a3040" stroke-width="0.15" textLength="21.5" lengthAdjust="spacingAndGlyphs">Fluorescence (x10 000)</text>
<text x="303.8" y="540.1" font-size="2.1" font-weight="bold" text-anchor="middle" fill="#333">5</text>
<text x="316.65" y="540.1" font-size="2.1" font-weight="bold" text-anchor="middle" fill="#333">10</text>
<text x="329.5" y="540.1" font-size="2.1" font-weight="bold" text-anchor="middle" fill="#333">15</text>
<text x="342.35" y="540.1" font-size="2.1" font-weight="bold" text-anchor="middle" fill="#333">20</text>
<text x="355.2" y="540.1" font-size="2.1" font-weight="bold" text-anchor="middle" fill="#333">25</text>
<text x="368.05" y="540.1" font-size="2.1" font-weight="bold" text-anchor="middle" fill="#333">30</text>
<text x="380.9" y="540.1" font-size="2.1" font-weight="bold" text-anchor="middle" fill="#333">35</text>
<text x="393.75" y="540.1" font-size="2.1" font-weight="bold" text-anchor="middle" fill="#333">40</text>
<text x="406.6" y="540.1" font-size="2.1" font-weight="bold" text-anchor="middle" fill="#333">45</text>
<text x="350.3" y="542.6" font-size="2" font-weight="bold" text-anchor="middle" fill="#333" textLength="5" lengthAdjust="spacingAndGlyphs">Cycles</text>
<path d="M294,535 C295.05,534.62 298.1,533.48 300.3,532.7 C302.5,531.92 304.1,531 307.2,530.3 C310.3,529.6 315.02,529.08 318.9,528.5 C322.78,527.92 326.25,527.47 330.5,526.8 C334.75,526.13 339.75,525.07 344.4,524.5 C349.05,523.93 354.13,523.78 358.4,523.4 C362.67,523.02 366.13,522.78 370,522.2 C373.87,521.62 377.72,520.9 381.6,519.9 C385.48,518.9 390.2,517.02 393.3,516.2 C396.4,515.38 398.22,515.12 400.2,515 C402.18,514.88 404.37,515.42 405.2,515.5" fill="none" stroke="#d0f2d4" stroke-width="1.15" stroke-linejoin="round" stroke-linecap="round"/>
<rect x="415" y="443.2" width="123" height="101.3" fill="#c3d4e7"/>
<rect x="415" y="443.2" width="123" height="2.0" fill="#cedae8"/>
<text x="464.4" y="446.1" font-size="2.4" font-weight="bold" fill="#454a58" textLength="23.5" lengthAdjust="spacingAndGlyphs">Amplification Curves</text>
<rect x="521.4" y="443.4" width="7.6" height="4" rx="1.2" fill="url(#gsel)"/>
<rect x="529.5" y="443.1" width="7" height="4.5" fill="#f4f5f7" stroke="#9aa2ac" stroke-width="0.3"/>
<line x1="531" y1="445.4" x2="535.2" y2="445.4" stroke="#666" stroke-width="0.6"/>
<rect x="422.7" y="448.2" width="114.2" height="90" fill="#fff"/>
<line x1="422.7" y1="448.2" x2="536.9" y2="448.2" stroke="#999" stroke-width="0.5"/>
<line x1="536.9" y1="448.2" x2="536.9" y2="538.2" stroke="#8a8a8a" stroke-width="0.8"/>
<line x1="422.7" y1="448.2" x2="422.7" y2="538.2" stroke="#7c7f86" stroke-width="0.75"/>
<line x1="422.7" y1="538.2" x2="536.9" y2="538.2" stroke="#7c7f86" stroke-width="0.75"/>
<text x="422.1" y="453.9" font-size="2.1" font-weight="bold" text-anchor="end" fill="#2a3040" textLength="4.2" lengthAdjust="spacingAndGlyphs">1.275</text>
<text x="422.1" y="458.88" font-size="2.1" font-weight="bold" text-anchor="end" fill="#2a3040" textLength="4.2" lengthAdjust="spacingAndGlyphs">1.275</text>
<text x="422.1" y="463.86" font-size="2.1" font-weight="bold" text-anchor="end" fill="#2a3040" textLength="4.2" lengthAdjust="spacingAndGlyphs">1.275</text>
<text x="422.1" y="468.84" font-size="2.1" font-weight="bold" text-anchor="end" fill="#2a3040" textLength="4.2" lengthAdjust="spacingAndGlyphs">1.275</text>
<text x="422.1" y="473.82" font-size="2.1" font-weight="bold" text-anchor="end" fill="#2a3040" textLength="4.2" lengthAdjust="spacingAndGlyphs">1.275</text>
<text x="422.1" y="478.81" font-size="2.1" font-weight="bold" text-anchor="end" fill="#2a3040" textLength="4.2" lengthAdjust="spacingAndGlyphs">1.275</text>
<text x="422.1" y="483.79" font-size="2.1" font-weight="bold" text-anchor="end" fill="#2a3040" textLength="4.2" lengthAdjust="spacingAndGlyphs">1.275</text>
<text x="422.1" y="488.77" font-size="2.1" font-weight="bold" text-anchor="end" fill="#2a3040" textLength="4.2" lengthAdjust="spacingAndGlyphs">1.275</text>
<text x="422.1" y="493.75" font-size="2.1" font-weight="bold" text-anchor="end" fill="#2a3040" textLength="4.2" lengthAdjust="spacingAndGlyphs">1.275</text>
<text x="422.1" y="498.73" font-size="2.1" font-weight="bold" text-anchor="end" fill="#2a3040" textLength="4.2" lengthAdjust="spacingAndGlyphs">1.275</text>
<text x="422.1" y="503.71" font-size="2.1" font-weight="bold" text-anchor="end" fill="#2a3040" textLength="4.2" lengthAdjust="spacingAndGlyphs">1.275</text>
<text x="422.1" y="508.69" font-size="2.1" font-weight="bold" text-anchor="end" fill="#2a3040" textLength="4.2" lengthAdjust="spacingAndGlyphs">1.275</text>
<text x="422.1" y="513.68" font-size="2.1" font-weight="bold" text-anchor="end" fill="#2a3040" textLength="4.2" lengthAdjust="spacingAndGlyphs">1.275</text>
<text x="422.1" y="518.66" font-size="2.1" font-weight="bold" text-anchor="end" fill="#2a3040" textLength="4.2" lengthAdjust="spacingAndGlyphs">1.275</text>
<text x="422.1" y="523.64" font-size="2.1" font-weight="bold" text-anchor="end" fill="#2a3040" textLength="4.2" lengthAdjust="spacingAndGlyphs">1.275</text>
<text x="422.1" y="528.62" font-size="2.1" font-weight="bold" text-anchor="end" fill="#2a3040" textLength="4.2" lengthAdjust="spacingAndGlyphs">1.275</text>
<text x="422.1" y="533.6" font-size="2.1" font-weight="bold" text-anchor="end" fill="#2a3040" textLength="4.2" lengthAdjust="spacingAndGlyphs">1.275</text>
<text transform="translate(416.7,493.2) rotate(-90)" font-size="2.3" font-weight="bold" text-anchor="middle" fill="#2a3040" stroke="#2a3040" stroke-width="0.15" textLength="21.5" lengthAdjust="spacingAndGlyphs">Fluorescence (x10 000)</text>
<text x="433.8" y="540.1" font-size="2.1" font-weight="bold" text-anchor="middle" fill="#333">5</text>
<text x="446.65" y="540.1" font-size="2.1" font-weight="bold" text-anchor="middle" fill="#333">10</text>
<text x="459.5" y="540.1" font-size="2.1" font-weight="bold" text-anchor="middle" fill="#333">15</text>
<text x="472.35" y="540.1" font-size="2.1" font-weight="bold" text-anchor="middle" fill="#333">20</text>
<text x="485.2" y="540.1" font-size="2.1" font-weight="bold" text-anchor="middle" fill="#333">25</text>
<text x="498.05" y="540.1" font-size="2.1" font-weight="bold" text-anchor="middle" fill="#333">30</text>
<text x="510.9" y="540.1" font-size="2.1" font-weight="bold" text-anchor="middle" fill="#333">35</text>
<text x="523.75" y="540.1" font-size="2.1" font-weight="bold" text-anchor="middle" fill="#333">40</text>
<text x="536.6" y="540.1" font-size="2.1" font-weight="bold" text-anchor="middle" fill="#333">45</text>
<text x="480.3" y="542.6" font-size="2" font-weight="bold" text-anchor="middle" fill="#333" textLength="5" lengthAdjust="spacingAndGlyphs">Cycles</text>
<path d="M423.8,534.5 C425.27,534.2 429.58,533.08 432.6,532.7 C435.62,532.32 438.8,532.37 441.9,532.2 C445,532.03 447.33,531.85 451.2,531.7 C455.07,531.55 460.83,531.45 465.1,531.3 C469.37,531.15 472.92,530.97 476.8,530.8 C480.68,530.63 484.53,530.57 488.4,530.3 C492.27,530.03 496.9,529.78 500,529.2 C503.1,528.62 504.67,527.7 507,526.8 C509.33,525.9 511.68,524.68 514,523.8 C516.32,522.92 518.38,522.15 520.9,521.5 C523.42,520.85 526.58,520.57 529.1,519.9 C531.62,519.23 534.85,517.9 536,517.5" fill="none" stroke="#b4b4ea" stroke-width="1.0" stroke-linejoin="round" stroke-linecap="round"/>
</svg>
</body></html>
